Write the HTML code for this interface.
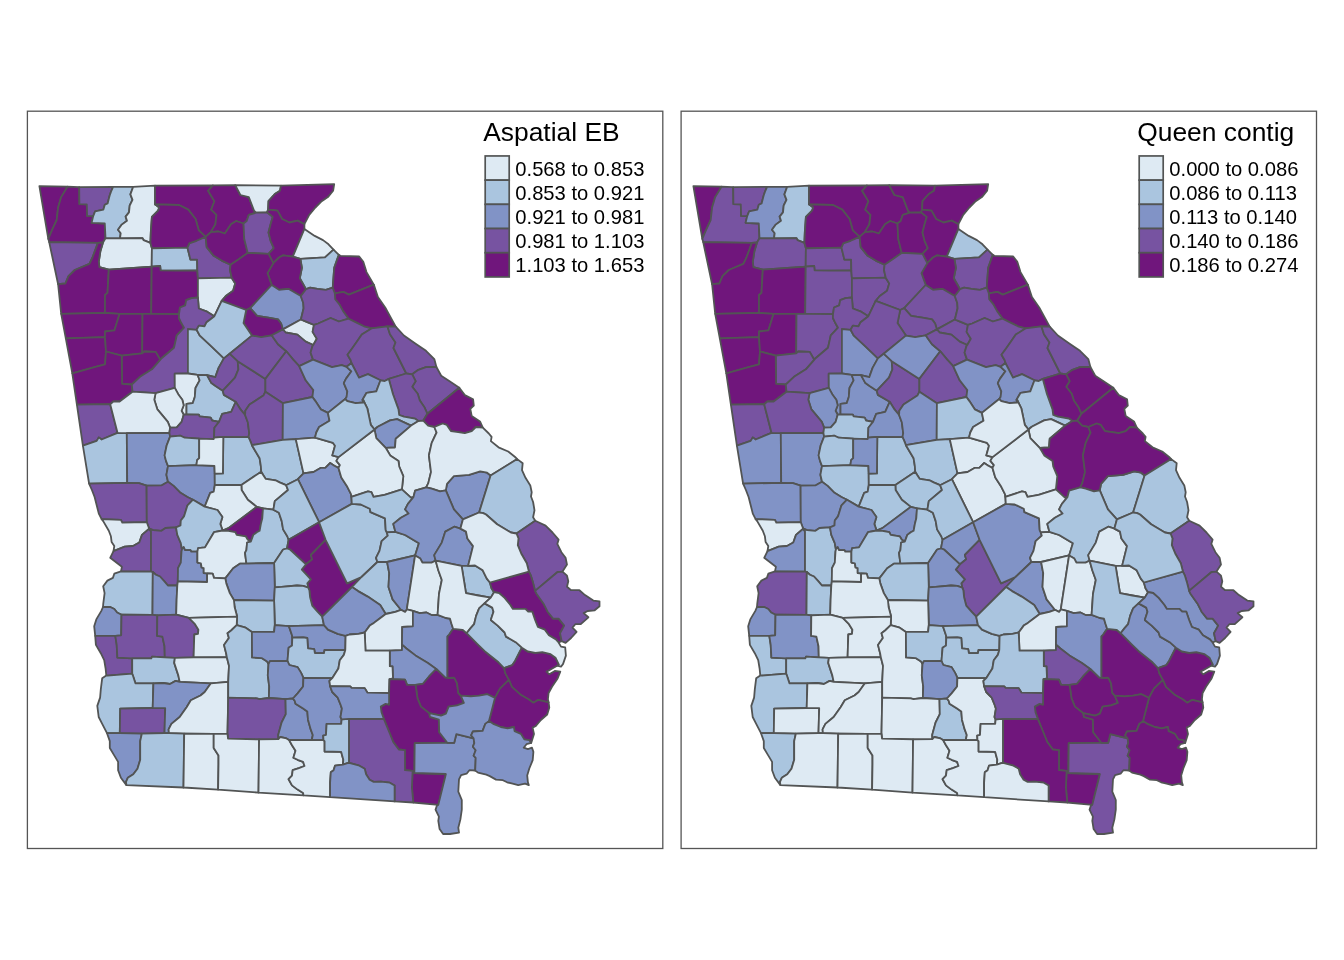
<!DOCTYPE html>
<html><head><meta charset="utf-8"><title>Georgia EB rates</title><style>
html,body{margin:0;padding:0;background:#fff}
body{width:1344px;height:960px;overflow:hidden;position:relative}
svg{position:absolute;left:0;top:0;font-family:"Liberation Sans",sans-serif;fill:#000}
</style></head><body>
<svg width="1344" height="960" viewBox="0 0 1344 960">
<g stroke="#525454" stroke-width="1.8" stroke-linejoin="round">
<path fill="#70167C" d="M39.4,186.2L67.5,186.7L61.2,197.1L58.1,207.5L56.7,220L51.9,230.4L48.3,238.8Z"/>
<path fill="#70167C" d="M67.5,186.7L79.2,187.2L79.4,204.1L86.8,204.4L87.1,215.9L93.2,216.1L91.6,222.8L104.8,223.5L105.5,238.3L103,242.5L97.9,242.9L49.2,242.1L48.3,238.8L51.9,230.4L56.7,220L58.1,207.5L61.2,197.1Z"/>
<path fill="#7753A1" d="M79.2,187.2L113.1,186.8L111,191.6L109.6,195.8L107.6,203.4L104.8,204.8L103.4,209.6L95.1,211.3L93.2,216.1L87.1,215.9L86.8,204.4L79.4,204.1Z"/>
<path fill="#AAC5DF" d="M113.1,186.8L133.2,186.8L130.4,194.4L132.5,199.9L129.7,205.5L129,212.4L125.6,216.6L127,220.7L121.4,224.9L118,229.7L120.7,233.2L120,238.3L105.5,238.3L104.8,223.5L91.6,222.8L93.2,216.1L95.1,211.3L103.4,209.6L104.8,204.8L107.6,203.4L109.6,195.8L111,191.6Z"/>
<path fill="#DEEAF3" d="M133.2,186.8L155,185.6L155,204.4L159.2,207.5L158.1,210.6L151.9,216.9L150.8,232.5L150.4,242.9L143.5,240.2L142.5,238.1L120,238.3L120.7,233.2L118,229.7L121.4,224.9L127,220.7L125.6,216.6L129,212.4L129.7,205.5L132.5,199.9L130.4,194.4Z"/>
<path fill="#7753A1" d="M49.2,242.1L97.9,242.9L92.5,257.5L89.4,263.8L74.8,270L68.5,276.2L65.4,283.5L58.1,284.2Z"/>
<path fill="#DEEAF3" d="M103,242.5L105.5,238.3L120,238.3L142.5,238.1L143.5,240.2L150.4,242.9L151.9,248.3L151.7,266.7L108.8,269.6L99.4,267.1L98.8,261.7L100.4,251.2Z"/>
<path fill="#70167C" d="M97.9,242.9L103,242.5L100.4,251.2L98.8,261.7L99.4,267.1L108.8,269.6L107.5,292.9L105,295L105,312.9L61.2,313.8L58.1,284.2L65.4,283.5L68.5,276.2L74.8,270L89.4,263.8L92.5,257.5Z"/>
<path fill="#70167C" d="M108.8,269.6L151.7,266.7L151.2,313.8L142.5,313.8L119.6,313.8L105,312.9L105,295L107.5,292.9Z"/>
<path fill="#70167C" d="M61.2,313.8L105,312.9L119.6,313.8L114.4,330.4L105,331.5L105,337.1L65.8,338.3Z"/>
<path fill="#70167C" d="M155,185.6L212.9,185.4L208.1,190.8L214.4,201.2L211.2,209.6L216.5,214.8L215.4,224.2L210.8,232.1L205.6,236.9L198.8,230.4L195.6,219L188.3,209.6L179,205L155,204.4Z"/>
<path fill="#70167C" d="M155,204.4L179,205L188.3,209.6L195.6,219L198.8,230.4L205.6,236.9L196.7,240.8L189.4,243.3L187.5,247.7L151.9,248.3L150.4,242.9L150.8,232.5L151.9,216.9L158.1,210.6L159.2,207.5Z"/>
<path fill="#AAC5DF" d="M151.9,248.3L187.5,247.7L190.4,259.6L197.1,259.6L197.3,270.4L175.8,270.6L160.6,270.4L160.2,266L151.7,266.7Z"/>
<path fill="#70167C" d="M151.7,266.7L160.2,266L160.6,270.4L175.8,270.6L197.3,270.4L197.9,278.3L197.9,297.5L191.5,298.1L186.2,300.2L185.2,305.4L180,307.5L179,314.2L151.2,313.8Z"/>
<path fill="#7753A1" d="M187.5,247.7L189.4,243.3L196.7,240.8L205.6,236.9L206.7,247.1L213.3,255.4L221.7,260.6L230.6,264.8L230,270L231.7,277.7L197.9,278.3L197.3,270.4L197.1,259.6L190.4,259.6Z"/>
<path fill="#70167C" d="M212.9,185.4L235.2,185.2L240.4,195L248.8,197.1L254,210.6L256,212.7L248.8,214.8L246.7,221L243.5,223.5L236.2,221L231,224.2L224.8,233.5L218.5,231.5L210.8,232.1L215.4,224.2L216.5,214.8L211.2,209.6L214.4,201.2L208.1,190.8Z"/>
<path fill="#70167C" d="M205.6,236.9L210.8,232.1L218.5,231.5L224.8,233.5L231,224.2L236.2,221L243.5,223.5L244.2,238.8L247.7,252.9L238.3,259.6L230.6,264.8L221.7,260.6L213.3,255.4L206.7,247.1Z"/>
<path fill="#DEEAF3" d="M197.9,278.3L231.7,277.7L235.2,283.5L233.1,290.8L225.8,296L221.7,300.8L214.4,316.2L207.1,311.7L198.8,308.5L197.9,297.5Z"/>
<path fill="#DEEAF3" d="M235.2,185.2L281,185.6L280,190.8L274.8,194L268.5,201.2L268.1,209.6L267.1,212.3L256,212.7L254,210.6L248.8,197.1L240.4,195Z"/>
<path fill="#70167C" d="M281,185.6L334.2,184.2L333.1,190.8L327.9,197.1L321.7,201.2L315.4,207.5L309.2,214.8L304.4,224.2L297.7,220.6L289.4,222.5L282.1,219L277.5,210.6L268.1,209.6L268.5,201.2L274.8,194L280,190.8Z"/>
<path fill="#7753A1" d="M256,212.7L267.1,212.3L272.7,216.9L270.6,224.2L268.5,232.5L270.6,240.8L273.8,248.1L268.5,253.8L247.7,252.9L244.2,238.8L243.5,223.5L246.7,221L248.8,214.8Z"/>
<path fill="#70167C" d="M268.1,209.6L277.5,210.6L282.1,219L289.4,222.5L297.7,220.6L304.4,224.2L304.4,229L292.8,256.7L283.1,255.4L279,257.5L273.3,263.1L268.5,253.8L273.8,248.1L270.6,240.8L268.5,232.5L270.6,224.2L272.7,216.9L267.1,212.3Z"/>
<path fill="#DEEAF3" d="M304.4,229L314.7,235.9L323,240.1L328.5,244.3L333.5,249.6L325,257.4L300.4,258.8L292.8,256.7Z"/>
<path fill="#AAC5DF" d="M300.4,258.8L325,257.4L333.5,249.6L338.8,254.8L334.2,267.9L332.7,287.7L325.8,289.8L317.5,288.8L310.2,287.7L306,289.2L299.8,278.3L301.9,267.9Z"/>
<path fill="#70167C" d="M338.8,254.8L340.4,255.8L359.2,256.5L363.3,261.7L366.5,272.1L373.8,284.6L348.8,294.6L343.5,291.9L334.8,293.3L332.7,287.7L334.2,267.9Z"/>
<path fill="#70167C" d="M334.8,293.3L343.5,291.9L348.8,294.6L373.8,284.6L377.9,297.1L385.2,307.5L395.7,326.6L387.4,326.3L371.5,328.4L363.9,326.3L357,322.9L348.6,318.7L343.1,311.1L339.4,304.4L335.2,299.2Z"/>
<path fill="#70167C" d="M273.3,263.1L279,257.5L283.1,255.4L292.8,256.7L300.4,258.8L301.9,267.9L299.8,278.3L306,289.2L300.8,296L288.3,288.8L279,289.8L271.7,285L267.5,273.1Z"/>
<path fill="#70167C" d="M247.7,252.9L268.5,253.8L273.3,263.1L267.5,273.1L271.7,285L250.2,308.1L246.2,310L221.7,300.8L225.8,296L233.1,290.8L235.2,283.5L231.7,277.7L230,270L230.6,264.8L238.3,259.6Z"/>
<path fill="#8193C6" d="M271.7,285L279,289.8L288.3,288.8L300.8,296L303.2,302.8L303.6,308.3L300.9,319.5L282.9,329.4L281.1,323.5L278,319.4L268.3,317.7L257.1,315.8L250.2,308.1Z"/>
<path fill="#70167C" d="M250.2,308.1L257.1,315.8L268.3,317.7L278,319.4L281.1,323.5L282.9,329.4L271.8,335.3L261.2,337.1L251.9,335.6L243.5,323.1L246.2,310Z"/>
<path fill="#DEEAF3" d="M282.9,329.4L300.9,319.5L304.3,320.8L314,324.9L312.6,331.9L316.8,338.8L313.3,345L305.7,341.6L297.4,334.6L285.6,332.5Z"/>
<path fill="#7753A1" d="M306,289.2L310.2,287.7L317.5,288.8L325.8,289.8L332.7,287.7L334.8,293.3L335.2,299.2L339.4,304.4L343.1,311.1L348.6,318.7L338.9,321.5L330.6,318L318.2,323.5L314,324.9L304.3,320.8L300.9,319.5L303.6,308.3L303.2,302.8L300.8,296Z"/>
<path fill="#70167C" d="M65.8,338.3L105,337.1L106,351.5L105,364.4L94.6,367.1L72.3,373.3Z"/>
<path fill="#70167C" d="M119.6,313.8L142.5,313.8L142.2,353.3L121.7,355.6L106,351.5L105,337.1L105,331.5L114.4,330.4Z"/>
<path fill="#70167C" d="M142.5,313.8L151.2,313.8L179,314.2L178.9,318L180.9,322.2L184,327.7L176.8,335.3L175.4,341.6L174,347.8L161.6,358.2L160.2,359.8L155.7,351.9L144.2,351.5L142.2,353.3Z"/>
<path fill="#70167C" d="M121.7,355.6L142.2,353.3L144.2,351.5L155.7,351.9L160.2,359.8L151.9,369.3L140.8,376.2L131.8,384.5L122.1,383.8Z"/>
<path fill="#70167C" d="M72.3,373.3L94.6,367.1L105,364.4L106,351.5L121.7,355.6L122.1,383.8L131.8,384.5L132.5,391.7L119.6,401.5L113.3,401.5L110.2,404.2L76.9,404.6Z"/>
<path fill="#7753A1" d="M179,314.2L180,307.5L185.2,305.4L186.2,300.2L191.5,298.1L197.9,297.5L198.8,308.5L207.1,311.7L214.4,316.2L206.6,322.2L204.5,326.3L198.9,325.6L196.6,329.8L187.9,329.1L187.9,373.5L174.7,373.7L174.8,387.8L155.6,393.1L132.5,391.7L131.8,384.5L140.8,376.2L151.9,369.3L160.2,359.8L161.6,358.2L174,347.8L175.4,341.6L176.8,335.3L184,327.7L180.9,322.2L178.9,318Z"/>
<path fill="#AAC5DF" d="M196.6,329.8L199.6,335.3L211.4,346.4L223.9,358.4L218.6,367.9L215.3,377.1L207,375.1L197.6,374.8L187.9,373.5L187.9,329.1Z"/>
<path fill="#AAC5DF" d="M221.7,300.8L246.2,310L243.5,323.1L251.9,335.6L229.7,353.7L223.9,358.4L211.4,346.4L199.6,335.3L196.6,329.8L198.9,325.6L204.5,326.3L206.6,322.2L214.4,316.2Z"/>
<path fill="#DEEAF3" d="M174.8,387.8L174.7,373.7L187.9,373.5L197.6,374.8L199.6,380.3L195.5,388L194.8,397L192.7,403.2L186.5,403.9L186.5,414.4L183.7,414.7L181.6,410.8L183.7,405.3L182.3,399.7L178.2,394.2Z"/>
<path fill="#DEEAF3" d="M155.6,393.1L174.8,387.8L178.2,394.2L182.3,399.7L183.7,405.3L181.6,410.8L183.7,414.7L181.6,421.9L176.8,427.4L170.1,427.7L167.8,421.9L164.3,417.7L157.4,409.4L154.3,399.7Z"/>
<path fill="#AAC5DF" d="M197.6,374.8L207,375.1L211.4,383.1L215.6,386.1L222.8,390.7L223.9,394.9L235.7,401.8L231.2,411.8L222.2,413.9L219,421.9L212.1,420.5L210.7,417.7L199.6,416.3L198.9,414.7L186.5,414.4L186.5,403.9L192.7,403.2L194.8,397L195.5,388L199.6,380.3Z"/>
<path fill="#7753A1" d="M223.9,358.4L229.7,353.7L237.7,361.2L238.4,369.3L235,377.6L226.6,386.6L222.8,390.7L215.6,386.1L211.4,383.1L207,375.1L215.3,377.1L218.6,367.9Z"/>
<path fill="#7753A1" d="M237.7,361.2L265.4,378.9L265.4,391.7L263.4,395.6L249.5,404.6L245.3,410.8L245.1,415L240.5,409.4L235.7,401.8L223.9,394.9L222.8,390.7L226.6,386.6L235,377.6L238.4,369.3Z"/>
<path fill="#7753A1" d="M251.9,335.6L261.2,337.1L271.8,335.3L273.2,337.4L278,344.3L286.3,351.2L265.4,378.9L237.7,361.2L229.7,353.7Z"/>
<path fill="#7753A1" d="M282.9,329.4L285.6,332.5L297.4,334.6L305.7,341.6L313.3,345L312.6,345.7L310.6,352.6L313,359.6L299.2,366.1L293.2,359.6L286.3,351.2L278,344.3L273.2,337.4L271.8,335.3Z"/>
<path fill="#7753A1" d="M314,324.9L318.2,323.5L330.6,318L338.9,321.5L348.6,318.7L357,322.9L363.9,326.3L371.5,328.4L361.8,334.6L357,341.6L352.1,348.5L347.5,354.7L350.7,360.2L351.4,363L346.6,366.8L341.7,365.1L332,367.2L313,359.6L310.6,352.6L312.6,345.7L313.3,345L316.8,338.8L312.6,331.9Z"/>
<path fill="#7753A1" d="M371.5,328.4L387.4,326.3L390,334.2L395.5,342.5L393.5,348L406.3,373.5L388.8,378.9L384.7,381L380.5,380.3L368,374.1L359,377.6L351.4,363L350.7,360.2L347.5,354.7L352.1,348.5L357,341.6L361.8,334.6Z"/>
<path fill="#7753A1" d="M286.3,351.2L293.2,359.6L299.2,366.1L305.7,380.3L313.3,390L312.4,397L282.9,403.2L265.4,391.7L265.4,378.9Z"/>
<path fill="#8193C6" d="M313,359.6L332,367.2L341.7,365.1L346.6,366.8L351.4,371.3L345.9,378.9L343.8,383.1L347.3,391.4L346.6,397L345.2,399L327.9,412.9L320.9,409.4L315.4,401.1L312.4,397L313.3,390L305.7,380.3L299.2,366.1Z"/>
<path fill="#8193C6" d="M346.6,366.8L351.4,363L359,377.6L368,374.1L380.5,380.3L376.3,391.4L366.6,392.8L362.5,399.7L363.2,402.5L355.6,403.2L347.3,401.1L345.2,399L346.6,397L347.3,391.4L343.8,383.1L345.9,378.9L351.4,371.3Z"/>
<path fill="#7753A1" d="M387.4,326.3L395.7,326.6L403.9,335.5L414.9,343.2L426,350.8L434.3,359.1L436.4,367L426,367.1L417.7,370.2L412.2,374.3L406.3,373.5L393.5,348L395.5,342.5L390,334.2Z"/>
<path fill="#7753A1" d="M412.2,374.3L417.7,370.2L426,367.1L436.4,367L441.2,375.7L449.6,381.2L459.3,387.8L427.4,413.8L424.6,407.6L419.8,400.6L417.7,393.7L412.2,386.8L415.6,381.2Z"/>
<path fill="#7753A1" d="M406.3,373.5L412.2,374.3L415.6,381.2L412.2,386.8L417.7,393.7L419.8,400.6L424.6,407.6L427.4,413.8L423.2,420.7L418.4,421L414.9,418.6L403.9,416.6L399.2,415L398.5,409.4L393,394.2L388.8,378.9Z"/>
<path fill="#70167C" d="M427.4,413.8L459.3,387.8L464.8,395.1L473.1,399.3L473.8,405.5L470.3,408.9L471.7,415.9L480,421.4L482.8,427.6L475.9,427L471.7,431.1L464.8,433.2L456.5,431.8L450.9,431.1L446.8,424.9L442.6,423.5L434.3,427L428.1,425.6L423.2,420.7Z"/>
<path fill="#AAC5DF" d="M380.5,380.3L384.7,381L388.8,378.9L393,394.2L398.5,409.4L399.2,415L403.9,416.6L414.9,418.6L418.4,421L411.1,425.6L397.1,419.1L390.1,420.4L377.7,426.7L374.5,429.5L370.8,424.9L367.3,408.3L363.2,400L363.2,402.5L362.5,399.7L366.6,392.8L376.3,391.4Z"/>
<path fill="#7753A1" d="M76.9,404.6L110.2,404.2L117.5,432.8L101.6,439.5L98.8,437.4L96.7,440.9L82.9,445.7Z"/>
<path fill="#AAC5DF" d="M82.9,445.7L96.7,440.9L98.8,437.4L101.6,439.5L117.5,432.8L126.8,433.2L127.2,482.8L89.1,483.7Z"/>
<path fill="#DEEAF3" d="M110.2,404.2L113.3,401.5L119.6,401.5L132.5,391.7L155.6,393.1L154.3,399.7L157.4,409.4L164.3,417.7L167.8,421.9L170.1,427.7L169.4,432.8L126.8,433.2L117.5,432.8Z"/>
<path fill="#8193C6" d="M126.8,433.2L169.4,432.8L170.1,436.7L166.6,445.7L164.6,455.4L166,460.9L168,466.1L166.4,474.8L168,481.7L161.8,485.3L146.6,485.7L138.9,483.1L127.2,482.8Z"/>
<path fill="#7753A1" d="M170.1,427.7L176.8,427.4L181.6,421.9L183.7,414.7L186.5,414.4L198.9,414.7L199.6,416.3L210.7,417.7L212.1,420.5L219,421.9L217.9,423.3L214.4,427.7L214,437.7L213.7,439.1L199.2,438.6L184.7,437.7L180.5,435.7L170.1,436.7L169.4,432.8Z"/>
<path fill="#AAC5DF" d="M170.1,436.7L180.5,435.7L184.7,437.7L199.2,438.6L199.2,458.2L197.1,460.2L196.4,465.2L168,466.1L166,460.9L164.6,455.4L166.6,445.7Z"/>
<path fill="#8193C6" d="M168,466.1L196.4,465.2L214.4,465.8L214.7,473.7L214.8,485L213.7,491.7L210.2,492.8L204.7,506.6L193,499.7L187.4,497L180.5,492.8L173.6,485.9L168,481.7L166.4,474.8Z"/>
<path fill="#7753A1" d="M89.1,483.7L127.2,482.8L138.9,483.1L146.6,485.7L146.8,522.2L122.3,522.6L120.9,519.8L101.6,519.1L98.8,513.6L96.7,505.3L94.6,497L91.9,490Z"/>
<path fill="#7753A1" d="M219,421.9L222.2,413.9L231.2,411.8L235.7,401.8L240.5,409.4L245.1,415L247.8,422.2L249.2,433.2L248.5,437.1L223.3,436.8L214,437.7L214.4,427.7L217.9,423.3Z"/>
<path fill="#7753A1" d="M245.1,415L245.3,410.8L249.5,404.6L263.4,395.6L265.4,391.7L282.9,403.2L282.7,439.8L251.9,445.2L249.9,440.2L248.5,437.1L249.2,433.2L247.8,422.2Z"/>
<path fill="#8193C6" d="M282.9,403.2L312.4,397L315.4,401.1L320.9,409.4L327.9,412.9L329.5,420.8L319.1,427L316.3,432.5L315,437.7L295.8,439.1L282.7,439.8Z"/>
<path fill="#AAC5DF" d="M223.3,436.8L248.5,437.1L249.9,440.2L251.9,445.2L259.6,458.2L260.9,466.5L261.2,471.7L241.4,485L214.8,485L214.7,473.7L222.9,473.4Z"/>
<path fill="#DEEAF3" d="M199.2,438.6L213.7,439.1L214,437.7L223.3,436.8L222.9,473.4L214.7,473.7L214.4,465.8L196.4,465.2L197.1,460.2L199.2,458.2Z"/>
<path fill="#AAC5DF" d="M251.9,445.2L282.7,439.8L295.8,439.1L303.5,473.4L297.9,479.2L286.1,485.2L279.6,482.4L275.5,480.3L265.8,478.9L263,474.8L261.2,471.7L260.9,466.5L259.6,458.2Z"/>
<path fill="#DEEAF3" d="M295.8,439.1L315,437.7L333,442.9L335,445.7L332.3,455.4L338.5,457.1L336.4,460.9L339.9,465.1L338.5,467.9L334.3,465.8L330.2,463L325.3,467.9L320.5,467.9L313.6,472L303.5,473.4Z"/>
<path fill="#8193C6" d="M303.5,473.4L313.6,472L320.5,467.9L325.3,467.9L330.2,463L334.3,465.8L338.5,467.9L341.3,477.6L346.8,485.9L351,494.2L351.4,496.9L351.8,503.9L319.1,522.2L297.9,479.2Z"/>
<path fill="#DEEAF3" d="M261.2,471.7L263,474.8L265.8,478.9L275.5,480.3L279.6,482.4L286.1,485.2L288,490L274.8,501.1L273.4,509.7L263,508.3L256.8,506.9L247.8,499.7L241.6,490L241.4,485Z"/>
<path fill="#DEEAF3" d="M214.8,485L241.4,485L241.6,490L247.8,499.7L256.8,506.9L228.4,528.1L222.6,530.5L220.3,523.9L222.4,516.9L217.5,510L204.7,506.6L210.2,492.8L213.7,491.7Z"/>
<path fill="#8193C6" d="M374.5,429.5L377.7,426.7L390.1,420.4L397.1,419.1L411.1,425.6L395.7,438.8L395,447.5L385.7,447.8L376.3,438.1Z"/>
<path fill="#DEEAF3" d="M418.4,421L423.2,420.7L428.1,425.6L434.3,427L436.6,432.5L431.7,442.9L428.9,455.4L431,472L428.3,483.1L426.2,487.3L415.1,490.7L413.4,497.2L410.9,497.6L401.9,489.3L403.3,476.2L399.2,466.5L398.5,460.9L390.2,455.4L385.7,447.8L395,447.5L395.7,438.8L411.1,425.6Z"/>
<path fill="#8193C6" d="M445.8,490.3L447,483.8L453.9,476.2L469.1,474.8L480.2,471.3L487.1,472.7L490.6,475.5L479.1,512.5L462.9,519.4L453.9,509.4Z"/>
<path fill="#DEEAF3" d="M434.3,427L442.6,423.5L446.8,424.9L450.9,431.1L456.5,431.8L464.8,433.2L471.7,431.1L475.9,427L482.8,427.6L488.8,433.5L491.6,436.9L490.9,441.1L498.5,447.3L508.2,451.5L515.1,457L517.2,459.1L490.6,475.5L487.1,472.7L480.2,471.3L469.1,474.8L453.9,476.2L447,483.8L445.8,490.3L440,491.4L431.7,488.6L426.2,487.3L428.3,483.1L431,472L428.9,455.4L431.7,442.9L436.6,432.5Z"/>
<path fill="#AAC5DF" d="M490.6,475.5L517.2,459.1L522.7,463.2L522,470.2L525.5,477.8L530.3,485.4L531.7,492.3L531,496.5L533.1,502L534.5,510.3L533.1,517.3L535.2,520.7L516.5,533.5L510.9,532.5L497.1,524.2L486,514.5L483.2,513.1L479.1,512.5Z"/>
<path fill="#7753A1" d="M146.6,485.7L161.8,485.3L168,481.7L173.6,485.9L180.5,492.8L187.4,497L193,499.7L187.5,505.3L184,516.4L180.8,520.5L180.5,525.5L176,527.3L165.6,528L161.4,530.8L153.1,530.1L149.2,528.7L146.8,522.2Z"/>
<path fill="#DEEAF3" d="M101.6,519.1L120.9,519.8L122.3,522.6L146.8,522.2L149.2,528.7L142,534.9L139.3,542.5L133,546L124.7,546.7L113.5,551.1L114.3,546L111.6,541.9L110.9,536.3L108.8,530.8L103.2,521.1Z"/>
<path fill="#7753A1" d="M113.5,551.1L124.7,546.7L133,546L139.3,542.5L142,534.9L149.2,528.7L151,531.5L151,571.6L121,571.4L121.9,566.8L110.2,557.8Z"/>
<path fill="#7753A1" d="M149.2,528.7L153.1,530.1L161.4,530.8L165.6,528L176,527.3L177.3,534.9L180.8,543.2L181.9,549.5L181.5,551.6L180.8,562.6L178,568.2L177.8,581.3L177.3,585.5L167.9,585.5L164.2,581.1L160,576.5L155.9,574.7L152.8,572L151,571.6L151,531.5Z"/>
<path fill="#AAC5DF" d="M121,571.4L151,571.6L152.8,572L152.5,614.8L121.5,614.7L117.1,612.5L114.3,609L110.2,607L103,607L103.2,604.2L104.6,593.1L103.2,586.2L107.4,580.6L112.9,577.9L114.3,573.7Z"/>
<path fill="#8193C6" d="M103,607L110.2,607L114.3,609L117.1,612.5L121.5,614.7L121.2,635.3L115.3,635.9L95.2,635.9L94.2,626.3L96.3,619.4L101.2,611.1Z"/>
<path fill="#8193C6" d="M152.8,572L155.9,574.7L160,576.5L164.2,581.1L167.9,585.5L177.3,585.5L176.6,600L176.2,614.6L157.3,615.3L152.5,614.8Z"/>
<path fill="#AAC5DF" d="M193,499.7L204.7,506.6L217.5,510L222.4,516.9L220.3,523.9L222.6,530.5L214,532.2L205,547.4L198.1,548.1L197.4,551.6L191.2,551.6L190.5,550.2L185,550.2L183.6,547.1L181.9,549.5L180.8,543.2L177.3,534.9L176,527.3L180.5,525.5L180.8,520.5L184,516.4L187.5,505.3Z"/>
<path fill="#8193C6" d="M181.9,549.5L183.6,547.1L185,550.2L190.5,550.2L191.2,551.6L197.4,551.6L197.4,562.6L200.9,563.3L201.6,567.5L203.7,568.2L203.7,573L207.1,573.3L207.1,582L177.8,581.3L178,568.2L180.8,562.6L181.5,551.6Z"/>
<path fill="#70167C" d="M256.8,506.9L263,508.3L262.3,518.3L260.9,523.9L259.6,530.8L256.8,532.2L253.3,534.9L250.8,541.6L247.8,539.8L245.7,536.3L236.7,534.9L235.3,532.2L228.4,530.8L222.6,530.5L228.4,528.1Z"/>
<path fill="#DEEAF3" d="M197.4,551.6L198.1,548.1L205,547.4L214,532.2L222.6,530.5L228.4,530.8L235.3,532.2L236.7,534.9L245.7,536.3L247.8,539.8L250.8,541.6L247.1,542.5L246.4,550.2L245,552.9L246.4,563.6L240.2,563.6L233.2,568.2L225.3,578.4L214,577.9L212.7,573.7L207.1,573.3L203.7,573L203.7,568.2L201.6,567.5L200.9,563.3L197.4,562.6Z"/>
<path fill="#AAC5DF" d="M263,508.3L273.4,509.7L278.9,512.8L281.7,521.1L283.1,529.4L287.3,536.3L288.6,539.8L287,548.5L283.1,549.5L274.1,563L246.4,563.6L245,552.9L246.4,550.2L247.1,542.5L250.8,541.6L253.3,534.9L256.8,532.2L259.6,530.8L260.9,523.9L262.3,518.3Z"/>
<path fill="#AAC5DF" d="M286.1,485.2L297.9,479.2L319.1,522.2L288.6,539.8L287.3,536.3L283.1,529.4L281.7,521.1L278.9,512.8L273.4,509.7L274.8,501.1L288,490Z"/>
<path fill="#70167C" d="M288.6,539.8L319.1,522.2L325.6,539.8L310.8,555L312.2,559.2L306,564.3L290,549.5L287,548.5Z"/>
<path fill="#70167C" d="M325.6,539.8L347.1,583.4L361.5,577L352,587L322.2,616.6L317.7,611.8L312.2,605.6L310.1,597.3L309.4,590.3L308.3,587.6L307.3,583.4L310.8,579.3L301.8,569.6L306,564.3L312.2,559.2L310.8,555Z"/>
<path fill="#AAC5DF" d="M287,548.5L290,549.5L306,564.3L301.8,569.6L310.8,579.3L307.3,583.4L308.3,587.6L303.2,585.9L297,585.5L281.7,586.9L274.8,587.3L274.1,563L283.1,549.5Z"/>
<path fill="#8193C6" d="M225.3,578.4L233.2,568.2L240.2,563.6L246.4,563.6L274.1,563L274.8,587.3L274.1,600.7L233.9,600L229.8,593.1L226.3,583.4Z"/>
<path fill="#AAC5DF" d="M274.8,587.3L281.7,586.9L297,585.5L303.2,585.9L308.3,587.6L309.4,590.3L310.1,597.3L312.2,605.6L317.7,611.8L322.2,616.6L324,625.2L288.9,626.1L274.8,625.2L274.1,600.7Z"/>
<path fill="#AAC5DF" d="M233.9,600L274.1,600.7L274.8,625.2L274.1,631.9L251.9,631.9L245.7,627.7L236.7,625.2L237.1,616.6L234.6,607Z"/>
<path fill="#DEEAF3" d="M177.8,581.3L207.1,582L207.1,573.3L212.7,573.7L214,577.9L225.3,578.4L226.3,583.4L229.8,593.1L233.9,600L234.6,607L237.1,616.6L188.8,617.8L176.2,614.6L176.6,600L177.3,585.5Z"/>
<path fill="#DEEAF3" d="M374.5,429.5L376.3,438.1L385.7,447.8L390.2,455.4L398.5,460.9L399.2,466.5L403.3,476.2L401.9,489.3L384.6,494.8L373.5,496.9L371.4,492.1L368,491.4L351.4,496.9L351,494.2L346.8,485.9L341.3,477.6L338.5,467.9L339.9,465.1L336.4,460.9L338.5,457.1Z"/>
<path fill="#AAC5DF" d="M327.9,412.9L345.2,399L347.3,401.1L355.6,403.2L363.2,402.5L363.2,400L367.3,408.3L370.8,424.9L374.5,429.5L338.5,457.1L332.3,455.4L335,445.7L333,442.9L315,437.7L316.3,432.5L319.1,427L329.5,420.8Z"/>
<path fill="#AAC5DF" d="M351.8,503.9L360.8,504.5L369.8,508.7L370.5,512.2L385,518.4L385.7,530.2L386.8,532.4L387.8,535.7L381.6,541.2L379.5,550.9L376,557.9L377.4,562L361.5,577L347.1,583.4L325.6,539.8L319.1,522.2Z"/>
<path fill="#AAC5DF" d="M351.4,496.9L368,491.4L371.4,492.1L373.5,496.9L384.6,494.8L401.9,489.3L410.9,497.6L413.4,497.2L407.9,503.9L405.1,509.4L408.6,513.5L400.9,517.7L393.3,523.9L395.4,531.8L386.8,532.4L385.7,530.2L385,518.4L370.5,512.2L369.8,508.7L360.8,504.5L351.8,503.9Z"/>
<path fill="#AAC5DF" d="M386.8,532.4L395.4,531.8L405.1,535L418.9,543.3L415.1,555.4L387.1,562L377.4,562L376,557.9L379.5,550.9L381.6,541.2L387.8,535.7Z"/>
<path fill="#AAC5DF" d="M361.5,577L377.4,562L387.1,562L389.2,573.1L388.5,587L392.6,599.4L400.9,609.8L395.4,611.9L385.7,614L380.2,605L367.7,596.6L358,591.1L352,587Z"/>
<path fill="#8193C6" d="M387.1,562L415.1,555.4L406.8,609.4L405.1,611.9L400.9,609.8L392.6,599.4L388.5,587L389.2,573.1Z"/>
<path fill="#8193C6" d="M413.4,497.2L415.1,490.7L426.2,487.3L431.7,488.6L440,491.4L445.8,490.3L453.9,509.4L462.9,519.4L460.4,528.6L454.3,526.7L445.3,531.6L441.8,542.6L434.2,555.1L435.6,560.6L431.4,562.7L422.4,562.7L420.3,558.6L415.1,555.4L418.9,543.3L405.1,535L395.4,531.8L393.3,523.9L400.9,517.7L408.6,513.5L405.1,509.4L407.9,503.9Z"/>
<path fill="#8193C6" d="M460.4,528.6L466,531.6L467.4,538.5L473,546.1L468.1,565.9L461.6,565.9L435.6,560.6L434.2,555.1L441.8,542.6L445.3,531.6L454.3,526.7Z"/>
<path fill="#DEEAF3" d="M415.1,555.4L420.3,558.6L422.4,562.7L431.4,562.7L435.6,560.6L438.3,570.3L441.8,580L439,593.9L437.6,614.9L432,615.2L426.5,612.5L419.6,613.2L412.9,610.8L406.8,609.4Z"/>
<path fill="#AAC5DF" d="M461.6,565.9L468.1,565.9L475,565.5L482.7,570.3L486.8,578.6L489.9,582.5L491.5,588.2L494,592.2L490.8,597.6L478.4,595.5L466,593.2Z"/>
<path fill="#7753A1" d="M535.2,520.7L545.6,525.6L552.5,532.5L558.6,539.7L557.3,543.9L561.4,552.2L565.6,557.7L567,564.6L562.5,571.6L557.3,572.2L535.1,590.9L533,582.6L530.9,575.7L528.9,571.6L526.8,563.2L521.2,553.5L517.8,545.2L518.5,538.3L516.5,533.5Z"/>
<path fill="#70167C" d="M528.9,571.6L530.9,575.7L533,582.6L535.1,590.9L536.5,593.7L543.4,603.4L547.6,611.7L553.1,618.6L558.6,618.6L564.2,625.6L560,633.2L561.7,641.1L558.6,642.5L555.9,639.4L548.9,635.3L544.8,629.7L537.9,627L535.1,620L532.3,611.7L528.2,611.7L525.4,608.9L512.9,608.9L510.2,604.8L504.6,597.9L499.1,593L494,592.2L491.5,588.2L489.9,582.5Z"/>
<path fill="#7753A1" d="M562.5,571.6L567,575.7L568.3,581.2L567,586.8L571.1,590.2L579.4,590.2L585,595.1L593.3,600.6L599.5,601.3L599.5,606.2L594.7,610.3L587.7,611L583.6,613.1L588.4,617.3L580.8,624.2L575.3,624.2L572.5,627.6L576.6,631.8L571.1,638L565.6,642.9L561.7,641.1L560,633.2L564.2,625.6L558.6,618.6L553.1,618.6L547.6,611.7L543.4,603.4L536.5,593.7L535.1,590.9L557.3,572.2Z"/>
<path fill="#DEEAF3" d="M462.9,519.4L479.1,512.5L483.2,513.1L486,514.5L497.1,524.2L510.9,532.5L516.5,533.5L518.5,538.3L517.8,545.2L521.2,553.5L526.8,563.2L528.9,571.6L489.9,582.5L486.8,578.6L482.7,570.3L475,565.5L468.1,565.9L473,546.1L467.4,538.5L466,531.6L460.4,528.6Z"/>
<path fill="#7753A1" d="M95.2,635.9L115.3,635.9L116.7,644.9L117.4,657.7L132.2,658.4L132.2,673.7L107.7,675.7L106.3,675.4L105.6,668.5L104.2,660.2L100.8,653.2L95.9,644.9Z"/>
<path fill="#7753A1" d="M121.5,614.7L152.5,614.8L157.3,615.3L157.1,635.9L162.4,636.6L164.5,646.3L164.8,657.4L152,656.7L151.3,658.4L132.2,658.4L117.4,657.7L116.7,644.9L115.3,635.9L121.2,635.3Z"/>
<path fill="#7753A1" d="M157.3,615.3L176.2,614.6L188.8,617.8L195,624.2L198.4,629.7L198,633.9L194.3,634.5L193.6,657.4L174.9,657.8L164.8,657.4L164.5,646.3L162.4,636.6L157.1,635.9Z"/>
<path fill="#DEEAF3" d="M188.8,617.8L237.1,616.6L236.7,625.2L231.1,630.5L227.5,633.2L228.9,638L224,644.9L226.1,653.2L226.8,657.1L193.6,657.4L194.3,634.5L198,633.9L198.4,629.7L195,624.2Z"/>
<path fill="#AAC5DF" d="M132.2,658.4L151.3,658.4L152,656.7L164.8,657.4L174.9,657.8L174.2,662.9L178.3,675.4L179.7,681.9L175.6,680.9L170,684L163.1,683L153.4,683.4L135.4,683.3L133.3,676.8L132.2,673.7Z"/>
<path fill="#DEEAF3" d="M174.9,657.8L193.6,657.4L226.8,657.1L229,665.7L228.2,681.9L210.9,683.3L179.7,681.9L178.3,675.4L174.2,662.9Z"/>
<path fill="#AAC5DF" d="M106.3,675.4L107.7,675.7L132.2,673.7L133.3,676.8L135.4,683.3L153.4,683.4L152.7,708L120.2,708.6L119.8,733.2L107,733.2L102.2,723.9L98.7,717L97.3,705.9L100.1,697.6L100.8,689.3L102.2,678.2Z"/>
<path fill="#7753A1" d="M119.8,733.2L120.2,708.6L152.7,708L165.2,708.2L164.5,733.2L141.6,733.6Z"/>
<path fill="#8193C6" d="M153.4,683.4L163.1,683L170,684L175.6,680.9L179.7,681.9L210.9,683.3L204.7,692L200.5,695.5L190.8,700.3L186.6,707.3L179.7,717L171.4,723.9L168.6,729.4L168.9,733.2L164.5,733.2L165.2,708.2L152.7,708Z"/>
<path fill="#DEEAF3" d="M210.9,683.3L228.2,681.9L228.2,697.6L227.5,733.9L213.7,733.9L184.2,733.6L168.9,733.2L168.6,729.4L171.4,723.9L179.7,717L186.6,707.3L190.8,700.3L200.5,695.5L204.7,692Z"/>
<path fill="#AAC5DF" d="M236.7,625.2L245.7,627.7L251.9,631.9L252.1,657.4L261.6,658.1L267.1,661.6L268.5,664L267.8,675.4L269.2,686.5L268.9,698L259.5,699.2L256.7,698.3L228.2,697.6L228.2,681.9L229,665.7L226.8,657.1L226.1,653.2L224,644.9L228.9,638L227.5,633.2L231.1,630.5Z"/>
<path fill="#8193C6" d="M251.9,631.9L274.1,631.9L274.8,625.2L288.9,626.1L292,635.2L292.3,637.7L292,645.6L288.6,647.7L287.5,661L269.9,661.1L268.5,664L267.1,661.6L261.6,658.1L252.1,657.4Z"/>
<path fill="#8193C6" d="M288.9,626.1L324,625.2L328,629.7L337.7,633.9L345.6,635.9L345.3,650.1L324.6,649.8L323.9,653.2L314.9,653L314.2,649.1L308,648.4L307.3,638L303.1,637.3L292.3,637.7L292,635.2Z"/>
<path fill="#AAC5DF" d="M292.3,637.7L303.1,637.3L307.3,638L308,648.4L314.2,649.1L314.9,653L323.9,653.2L324.6,649.8L345.3,650.1L344,654.6L339.8,660.2L338.4,668.5L332.2,678.2L303.4,677.9L301,672.6L297.6,667.1L289.3,665L287.5,661L288.6,647.7L292,645.6Z"/>
<path fill="#8193C6" d="M268.5,664L269.9,661.1L287.5,661L289.3,665L297.6,667.1L301,672.6L303.4,677.9L303.1,686.5L297.6,693.4L293,698.5L285.5,699.2L268.9,698L269.2,686.5L267.8,675.4Z"/>
<path fill="#7753A1" d="M228.2,697.6L256.7,698.3L259.5,699.2L268.9,698L285.5,699.2L285.8,714.2L281.6,722.5L278.2,735L278.4,739.1L259.1,739.4L228,738.7L227.5,733.9Z"/>
<path fill="#8193C6" d="M285.5,699.2L293,698.5L294.8,701L295.5,703.8L303.1,708.6L307.3,711.4L308,719.7L310.7,729.4L312.8,735L311.7,740.2L289,739.9L286.5,738.4L280.2,737L278.4,739.1L278.2,735L281.6,722.5L285.8,714.2Z"/>
<path fill="#8193C6" d="M303.4,677.9L332.2,678.2L329.4,680.9L330.1,686.2L332.2,692L337.7,697.6L340.5,704.5L341.9,708.6L340.5,717L341.6,719.3L341.2,723.9L326.6,723.9L326,735L323.2,735.7L323.5,740.2L311.7,740.2L312.8,735L310.7,729.4L308,719.7L307.3,711.4L303.1,708.6L295.5,703.8L294.8,701L293,698.5L297.6,693.4L303.1,686.5Z"/>
<path fill="#8193C6" d="M352,587L322.2,616.6L324,625.2L328,629.7L337.7,633.9L345.6,635.9L349.5,634.5L358.5,633.9L364.7,632.5L369.7,625.6L373.9,622.9L379.4,618.7L385.7,614L380.2,605L367.7,596.6L358,591.1Z"/>
<path fill="#DEEAF3" d="M364.7,632.5L369.7,625.6L373.9,622.9L379.4,618.7L385.7,614L395.4,611.9L400.9,609.8L405.1,611.9L406.8,609.4L412.9,610.8L412.9,626.3L402.2,627L402,644.6L402,650.1L389.8,650.7L365.5,650.7Z"/>
<path fill="#8193C6" d="M412.9,610.8L419.6,613.2L426.5,612.5L432,615.2L437.6,614.9L445.9,618L450,618.7L451.4,623.5L453.1,628.8L449.3,634.6L447.5,636.3L447.5,677.8L445.2,677.6L436.2,669L427.9,663L415.4,655.4L406.4,648.5L402,644.6L402.2,627L412.9,626.3Z"/>
<path fill="#8193C6" d="M402,644.6L406.4,648.5L415.4,655.4L427.9,663L436.2,669L429.3,676.2L423,683.8L415.4,684.8L407.1,684.8L405,679.6L389.5,679.2L393,678.3L392.5,666.5L389.8,666.2L389.8,650.7L402,650.1Z"/>
<path fill="#DEEAF3" d="M345.6,635.9L349.5,634.5L358.5,633.9L364.7,632.5L365.5,650.7L389.8,650.7L389.8,666.2L392.5,666.5L393,678.3L389.5,679.2L389.1,693.1L367.5,692.7L364.7,688.1L351.6,687.8L350.2,686.4L330.1,686.2L329.4,680.9L332.2,678.2L338.4,668.5L339.8,660.2L344,654.6L345.3,650.1Z"/>
<path fill="#70167C" d="M415.4,684.8L423,683.8L429.3,676.2L436.2,669L445.2,677.6L447.5,677.8L454.2,677.6L457,683.1L458.3,692.8L460.7,695.6L463.9,702.8L457,705.3L448.6,706.6L445.9,713.6L441,715.7L429.3,713.2L420.9,706.6L417.5,698.3L416.1,688.6Z"/>
<path fill="#70167C" d="M453.1,628.8L455.6,629.1L462.5,629.8L466.6,633.2L470.8,637.4L477.7,644.3L484.7,651.2L491.6,656.8L498.5,662.3L504,668.1L505.4,673.4L508.9,679.9L499.9,688.6L495,697.9L487.4,694.2L479.1,695.6L470.8,696.3L460.7,695.6L458.3,692.8L457,683.1L454.2,677.6L447.5,677.8L447.5,636.3L449.3,634.6Z"/>
<path fill="#DEEAF3" d="M435.6,560.6L461.6,565.9L466,593.2L478.4,595.5L490.8,597.6L484.5,603.4L479.1,608.3L476.1,615.9L474.1,624.2L470.4,628.4L466.6,633.2L462.5,629.8L455.6,629.1L453.1,628.8L451.4,623.5L450,618.7L445.9,618L437.6,614.9L439,593.9L441.8,580L438.3,570.3Z"/>
<path fill="#AAC5DF" d="M484.5,603.4L492.2,607.6L493.5,611.7L490.8,620L497.7,625.6L504.6,632.5L506,636.6L515.7,642.2L521.9,647.7L519.3,652.6L515.1,660.9L512.4,665.1L504,668.1L498.5,662.3L491.6,656.8L484.7,651.2L477.7,644.3L470.8,637.4L466.6,633.2L470.4,628.4L474.1,624.2L476.1,615.9L479.1,608.3Z"/>
<path fill="#70167C" d="M521.9,647.7L527.8,651.5L535.4,652.9L542.3,652.2L550.6,654.2L555.5,657.7L558.9,664.6L557.1,665.7L549.3,670.2L546.5,671.6L549.3,674.3L554.8,670.9L560.3,671.6L557.6,678.5L552,686.8L548.6,693L547.9,699.3L548.6,702.3L538.2,699.9L533.3,702.7L528.5,699.3L520.2,694.4L511.9,686.8L508.9,679.9L505.4,673.4L504,668.1L512.4,665.1L515.1,660.9L519.3,652.6Z"/>
<path fill="#DEEAF3" d="M494,592.2L499.1,593L504.6,597.9L510.2,604.8L512.9,608.9L525.4,608.9L528.2,611.7L532.3,611.7L535.1,620L537.9,627L544.8,629.7L548.9,635.3L555.9,639.4L558.6,642.5L561,646.6L565.2,647.3L565.9,655.6L563.1,663.9L561,666.7L557.1,665.7L558.9,664.6L555.5,657.7L550.6,654.2L542.3,652.2L535.4,652.9L527.8,651.5L521.9,647.7L515.7,642.2L506,636.6L504.6,632.5L497.7,625.6L490.8,620L493.5,611.7L492.2,607.6L484.5,603.4L490.8,597.6Z"/>
<path fill="#70167C" d="M508.9,679.9L511.9,686.8L520.2,694.4L528.5,699.3L533.3,702.7L538.2,699.9L548.6,702.3L549.3,707.6L547.2,714.5L540.9,720L535.4,726.3L532.6,727.6L534,733.9L531.9,740.8L531.2,742.9L529.2,740.1L524.3,739.4L520.9,733.9L514.6,731.1L513.9,727L507.7,728.3L500.8,727L493.9,724.2L489,721.1L491.8,710.3L493.9,702L495,697.9L499.9,688.6Z"/>
<path fill="#8193C6" d="M107,733.2L119.8,733.2L141.6,733.6L141.6,734.8L140.2,741.1L140.2,759.8L137.5,768.8L133.3,774.3L127.8,777.8L126,781.9L126.4,785.1L120.9,777.8L118.1,770.2L118.1,761.9L113.9,754.9L109.8,748L109.8,741.1Z"/>
<path fill="#AAC5DF" d="M141.6,733.6L164.5,733.2L168.9,733.2L184.2,733.6L183.5,787.5L126.4,785.1L126,781.9L127.8,777.8L133.3,774.3L137.5,768.8L140.2,759.8L140.2,741.1L141.6,734.8Z"/>
<path fill="#DEEAF3" d="M184.2,733.6L213.7,733.9L213.7,748L218.5,755.6L218.5,764.6L218.1,789.6L183.5,787.5Z"/>
<path fill="#DEEAF3" d="M213.7,733.9L227.5,733.9L228,738.7L259.1,739.4L258.5,792.6L218.1,789.6L218.5,764.6L218.5,755.6L213.7,748Z"/>
<path fill="#DEEAF3" d="M259.1,739.4L278.4,739.1L280.2,737L286.5,738.4L289,739.9L292,745.2L295.5,750.8L293.4,757.7L297.6,759.8L303.1,761.9L304.5,766L298.9,768.1L292.7,770.2L292,775.7L288.6,779.2L292,785.4L297.6,789.6L303.1,793L303.5,795.4L258.5,792.6Z"/>
<path fill="#DEEAF3" d="M289,739.9L311.7,740.2L323.5,740.2L324.6,741.1L324.6,751.5L341.2,751.9L343.3,759.8L342.9,764.6L335,765.7L333.6,770.2L330.8,772.2L330.1,782.6L330.1,797.2L303.5,795.4L303.1,793L297.6,789.6L292,785.4L288.6,779.2L292,775.7L292.7,770.2L298.9,768.1L304.5,766L303.1,761.9L297.6,759.8L293.4,757.7L295.5,750.8L292,745.2Z"/>
<path fill="#AAC5DF" d="M341.6,719.3L349.1,718.9L349.1,762.8L347.4,763.2L342.9,764.6L343.3,759.8L341.2,751.9L324.6,751.5L324.6,741.1L323.5,740.2L323.2,735.7L326,735L326.6,723.9L341.2,723.9Z"/>
<path fill="#70167C" d="M389.5,679.2L405,679.6L407.1,684.8L415.4,684.8L416.1,688.6L417.5,698.3L420.9,706.6L429.3,713.2L429.9,716.9L438.9,719.7L439.2,732.2L447.3,742.8L414.7,743.2L414.4,773L445.9,774L438.3,804.9L413.3,802.5L411.9,787.6L412.6,770.9L405,770.2L405,750.2L398.8,749.5L393.2,741.9L389.8,733.5L383.8,718.8L381.5,712.2L380.8,706.6L385.6,703.9L389.1,704.6L389.1,693.1Z"/>
<path fill="#7753A1" d="M349.1,718.9L383.8,718.8L389.8,733.5L393.2,741.9L398.8,749.5L405,750.2L405,770.2L412.6,770.9L411.9,787.6L413.3,802.5L394.6,801.4L394.6,785.5L389.8,782.7L380.8,781.7L373.7,781.9L369.6,779.8L366.1,774.3L364.7,768.7L358.5,765.3L349.1,762.8Z"/>
<path fill="#8193C6" d="M342.9,764.6L347.4,763.2L349.1,762.8L358.5,765.3L364.7,768.7L366.1,774.3L369.6,779.8L373.7,781.9L380.8,781.7L389.8,782.7L394.6,785.5L394.6,801.4L330.1,797.2L330.1,782.6L330.8,772.2L333.6,770.2L335,765.7Z"/>
<path fill="#8193C6" d="M447.3,742.8L454.2,742.8L456.3,734.2L473.6,738.4L474.3,743.2L472.9,746.7L475.7,750.2L473.6,755.7L475.7,757.8L475.2,770.5L469.4,770.2L466.6,773.7L461.1,775.1L459,779.3L458.3,791.7L461.8,800L461.8,809.7L460.4,819.4L458.3,827.7L459,832.6L450,834L443.1,834L439.6,829.1L438.3,820.8L438.9,816.6L435.5,809.7L436.9,805.6L438.3,804.9L445.9,774L414.4,773L414.7,743.2Z"/>
<path fill="#8193C6" d="M429.3,713.2L441,715.7L445.9,713.6L448.6,706.6L457,705.3L463.9,702.8L460.7,695.6L470.8,696.3L479.1,695.6L487.4,694.2L495,697.9L493.9,702L491.8,710.3L489,721.1L485.3,723.9L482.6,730.8L472.9,731.5L471.1,735.3L473.6,738.4L456.3,734.2L454.2,742.8L447.3,742.8L439.2,732.2L438.9,719.7L429.9,716.9Z"/>
<path fill="#8193C6" d="M330.1,686.2L332.2,692L337.7,697.6L340.5,704.5L341.9,708.6L340.5,717L341.6,719.3L349.1,718.9L383.8,718.8L381.5,712.2L380.8,706.6L385.6,703.9L389.1,704.6L389.1,693.1L367.5,692.7L364.7,688.1L351.6,687.8L350.2,686.4Z"/>
<path fill="#8193C6" d="M489,721.1L493.9,724.2L500.8,727L507.7,728.3L513.9,727L514.6,731.1L520.9,733.9L524.3,739.4L529.2,740.1L531.2,742.9L526.5,744.2L523.7,747.7L527.9,749.1L532,747.7L533.4,751.9L532.7,760.2L529.3,768.5L527.2,775.4L527.9,782.3L528.8,785.1L525.1,783.7L518.2,785.1L512.6,783.7L507.1,782.3L502.9,780.2L496,779.6L489.8,776.1L486.3,774.7L478,772.6L475.2,770.5L475.7,757.8L473.6,755.7L475.7,750.2L472.9,746.7L474.3,743.2L473.6,738.4L471.1,735.3L472.9,731.5L482.6,730.8L485.3,723.9Z"/>
</g>
<g stroke="#525454" stroke-width="1.8" stroke-linejoin="round" transform="translate(654.0,0)">
<path fill="#70167C" d="M39.4,186.2L67.5,186.7L61.2,197.1L58.1,207.5L56.7,220L51.9,230.4L48.3,238.8Z"/>
<path fill="#7753A1" d="M67.5,186.7L79.2,187.2L79.4,204.1L86.8,204.4L87.1,215.9L93.2,216.1L91.6,222.8L104.8,223.5L105.5,238.3L103,242.5L97.9,242.9L49.2,242.1L48.3,238.8L51.9,230.4L56.7,220L58.1,207.5L61.2,197.1Z"/>
<path fill="#7753A1" d="M79.2,187.2L113.1,186.8L111,191.6L109.6,195.8L107.6,203.4L104.8,204.8L103.4,209.6L95.1,211.3L93.2,216.1L87.1,215.9L86.8,204.4L79.4,204.1Z"/>
<path fill="#8193C6" d="M113.1,186.8L133.2,186.8L130.4,194.4L132.5,199.9L129.7,205.5L129,212.4L125.6,216.6L127,220.7L121.4,224.9L118,229.7L120.7,233.2L120,238.3L105.5,238.3L104.8,223.5L91.6,222.8L93.2,216.1L95.1,211.3L103.4,209.6L104.8,204.8L107.6,203.4L109.6,195.8L111,191.6Z"/>
<path fill="#AAC5DF" d="M133.2,186.8L155,185.6L155,204.4L159.2,207.5L158.1,210.6L151.9,216.9L150.8,232.5L150.4,242.9L143.5,240.2L142.5,238.1L120,238.3L120.7,233.2L118,229.7L121.4,224.9L127,220.7L125.6,216.6L129,212.4L129.7,205.5L132.5,199.9L130.4,194.4Z"/>
<path fill="#70167C" d="M49.2,242.1L97.9,242.9L92.5,257.5L89.4,263.8L74.8,270L68.5,276.2L65.4,283.5L58.1,284.2Z"/>
<path fill="#7753A1" d="M103,242.5L105.5,238.3L120,238.3L142.5,238.1L143.5,240.2L150.4,242.9L151.9,248.3L151.7,266.7L108.8,269.6L99.4,267.1L98.8,261.7L100.4,251.2Z"/>
<path fill="#70167C" d="M97.9,242.9L103,242.5L100.4,251.2L98.8,261.7L99.4,267.1L108.8,269.6L107.5,292.9L105,295L105,312.9L61.2,313.8L58.1,284.2L65.4,283.5L68.5,276.2L74.8,270L89.4,263.8L92.5,257.5Z"/>
<path fill="#70167C" d="M108.8,269.6L151.7,266.7L151.2,313.8L142.5,313.8L119.6,313.8L105,312.9L105,295L107.5,292.9Z"/>
<path fill="#70167C" d="M61.2,313.8L105,312.9L119.6,313.8L114.4,330.4L105,331.5L105,337.1L65.8,338.3Z"/>
<path fill="#70167C" d="M155,185.6L212.9,185.4L208.1,190.8L214.4,201.2L211.2,209.6L216.5,214.8L215.4,224.2L210.8,232.1L205.6,236.9L198.8,230.4L195.6,219L188.3,209.6L179,205L155,204.4Z"/>
<path fill="#70167C" d="M155,204.4L179,205L188.3,209.6L195.6,219L198.8,230.4L205.6,236.9L196.7,240.8L189.4,243.3L187.5,247.7L151.9,248.3L150.4,242.9L150.8,232.5L151.9,216.9L158.1,210.6L159.2,207.5Z"/>
<path fill="#7753A1" d="M151.9,248.3L187.5,247.7L190.4,259.6L197.1,259.6L197.3,270.4L175.8,270.6L160.6,270.4L160.2,266L151.7,266.7Z"/>
<path fill="#7753A1" d="M151.7,266.7L160.2,266L160.6,270.4L175.8,270.6L197.3,270.4L197.9,278.3L197.9,297.5L191.5,298.1L186.2,300.2L185.2,305.4L180,307.5L179,314.2L151.2,313.8Z"/>
<path fill="#7753A1" d="M187.5,247.7L189.4,243.3L196.7,240.8L205.6,236.9L206.7,247.1L213.3,255.4L221.7,260.6L230.6,264.8L230,270L231.7,277.7L197.9,278.3L197.3,270.4L197.1,259.6L190.4,259.6Z"/>
<path fill="#70167C" d="M212.9,185.4L235.2,185.2L240.4,195L248.8,197.1L254,210.6L256,212.7L248.8,214.8L246.7,221L243.5,223.5L236.2,221L231,224.2L224.8,233.5L218.5,231.5L210.8,232.1L215.4,224.2L216.5,214.8L211.2,209.6L214.4,201.2L208.1,190.8Z"/>
<path fill="#70167C" d="M205.6,236.9L210.8,232.1L218.5,231.5L224.8,233.5L231,224.2L236.2,221L243.5,223.5L244.2,238.8L247.7,252.9L238.3,259.6L230.6,264.8L221.7,260.6L213.3,255.4L206.7,247.1Z"/>
<path fill="#7753A1" d="M197.9,278.3L231.7,277.7L235.2,283.5L233.1,290.8L225.8,296L221.7,300.8L214.4,316.2L207.1,311.7L198.8,308.5L197.9,297.5Z"/>
<path fill="#70167C" d="M235.2,185.2L281,185.6L280,190.8L274.8,194L268.5,201.2L268.1,209.6L267.1,212.3L256,212.7L254,210.6L248.8,197.1L240.4,195Z"/>
<path fill="#70167C" d="M281,185.6L334.2,184.2L333.1,190.8L327.9,197.1L321.7,201.2L315.4,207.5L309.2,214.8L304.4,224.2L297.7,220.6L289.4,222.5L282.1,219L277.5,210.6L268.1,209.6L268.5,201.2L274.8,194L280,190.8Z"/>
<path fill="#70167C" d="M256,212.7L267.1,212.3L272.7,216.9L270.6,224.2L268.5,232.5L270.6,240.8L273.8,248.1L268.5,253.8L247.7,252.9L244.2,238.8L243.5,223.5L246.7,221L248.8,214.8Z"/>
<path fill="#70167C" d="M268.1,209.6L277.5,210.6L282.1,219L289.4,222.5L297.7,220.6L304.4,224.2L304.4,229L292.8,256.7L283.1,255.4L279,257.5L273.3,263.1L268.5,253.8L273.8,248.1L270.6,240.8L268.5,232.5L270.6,224.2L272.7,216.9L267.1,212.3Z"/>
<path fill="#AAC5DF" d="M304.4,229L314.7,235.9L323,240.1L328.5,244.3L333.5,249.6L325,257.4L300.4,258.8L292.8,256.7Z"/>
<path fill="#7753A1" d="M300.4,258.8L325,257.4L333.5,249.6L338.8,254.8L334.2,267.9L332.7,287.7L325.8,289.8L317.5,288.8L310.2,287.7L306,289.2L299.8,278.3L301.9,267.9Z"/>
<path fill="#70167C" d="M338.8,254.8L340.4,255.8L359.2,256.5L363.3,261.7L366.5,272.1L373.8,284.6L348.8,294.6L343.5,291.9L334.8,293.3L332.7,287.7L334.2,267.9Z"/>
<path fill="#70167C" d="M334.8,293.3L343.5,291.9L348.8,294.6L373.8,284.6L377.9,297.1L385.2,307.5L395.7,326.6L387.4,326.3L371.5,328.4L363.9,326.3L357,322.9L348.6,318.7L343.1,311.1L339.4,304.4L335.2,299.2Z"/>
<path fill="#70167C" d="M273.3,263.1L279,257.5L283.1,255.4L292.8,256.7L300.4,258.8L301.9,267.9L299.8,278.3L306,289.2L300.8,296L288.3,288.8L279,289.8L271.7,285L267.5,273.1Z"/>
<path fill="#7753A1" d="M247.7,252.9L268.5,253.8L273.3,263.1L267.5,273.1L271.7,285L250.2,308.1L246.2,310L221.7,300.8L225.8,296L233.1,290.8L235.2,283.5L231.7,277.7L230,270L230.6,264.8L238.3,259.6Z"/>
<path fill="#7753A1" d="M271.7,285L279,289.8L288.3,288.8L300.8,296L303.2,302.8L303.6,308.3L300.9,319.5L282.9,329.4L281.1,323.5L278,319.4L268.3,317.7L257.1,315.8L250.2,308.1Z"/>
<path fill="#7753A1" d="M250.2,308.1L257.1,315.8L268.3,317.7L278,319.4L281.1,323.5L282.9,329.4L271.8,335.3L261.2,337.1L251.9,335.6L243.5,323.1L246.2,310Z"/>
<path fill="#7753A1" d="M282.9,329.4L300.9,319.5L304.3,320.8L314,324.9L312.6,331.9L316.8,338.8L313.3,345L305.7,341.6L297.4,334.6L285.6,332.5Z"/>
<path fill="#7753A1" d="M306,289.2L310.2,287.7L317.5,288.8L325.8,289.8L332.7,287.7L334.8,293.3L335.2,299.2L339.4,304.4L343.1,311.1L348.6,318.7L338.9,321.5L330.6,318L318.2,323.5L314,324.9L304.3,320.8L300.9,319.5L303.6,308.3L303.2,302.8L300.8,296Z"/>
<path fill="#70167C" d="M65.8,338.3L105,337.1L106,351.5L105,364.4L94.6,367.1L72.3,373.3Z"/>
<path fill="#70167C" d="M119.6,313.8L142.5,313.8L142.2,353.3L121.7,355.6L106,351.5L105,337.1L105,331.5L114.4,330.4Z"/>
<path fill="#7753A1" d="M142.5,313.8L151.2,313.8L179,314.2L178.9,318L180.9,322.2L184,327.7L176.8,335.3L175.4,341.6L174,347.8L161.6,358.2L160.2,359.8L155.7,351.9L144.2,351.5L142.2,353.3Z"/>
<path fill="#7753A1" d="M121.7,355.6L142.2,353.3L144.2,351.5L155.7,351.9L160.2,359.8L151.9,369.3L140.8,376.2L131.8,384.5L122.1,383.8Z"/>
<path fill="#70167C" d="M72.3,373.3L94.6,367.1L105,364.4L106,351.5L121.7,355.6L122.1,383.8L131.8,384.5L132.5,391.7L119.6,401.5L113.3,401.5L110.2,404.2L76.9,404.6Z"/>
<path fill="#7753A1" d="M179,314.2L180,307.5L185.2,305.4L186.2,300.2L191.5,298.1L197.9,297.5L198.8,308.5L207.1,311.7L214.4,316.2L206.6,322.2L204.5,326.3L198.9,325.6L196.6,329.8L187.9,329.1L187.9,373.5L174.7,373.7L174.8,387.8L155.6,393.1L132.5,391.7L131.8,384.5L140.8,376.2L151.9,369.3L160.2,359.8L161.6,358.2L174,347.8L175.4,341.6L176.8,335.3L184,327.7L180.9,322.2L178.9,318Z"/>
<path fill="#8193C6" d="M196.6,329.8L199.6,335.3L211.4,346.4L223.9,358.4L218.6,367.9L215.3,377.1L207,375.1L197.6,374.8L187.9,373.5L187.9,329.1Z"/>
<path fill="#7753A1" d="M221.7,300.8L246.2,310L243.5,323.1L251.9,335.6L229.7,353.7L223.9,358.4L211.4,346.4L199.6,335.3L196.6,329.8L198.9,325.6L204.5,326.3L206.6,322.2L214.4,316.2Z"/>
<path fill="#8193C6" d="M174.8,387.8L174.7,373.7L187.9,373.5L197.6,374.8L199.6,380.3L195.5,388L194.8,397L192.7,403.2L186.5,403.9L186.5,414.4L183.7,414.7L181.6,410.8L183.7,405.3L182.3,399.7L178.2,394.2Z"/>
<path fill="#8193C6" d="M155.6,393.1L174.8,387.8L178.2,394.2L182.3,399.7L183.7,405.3L181.6,410.8L183.7,414.7L181.6,421.9L176.8,427.4L170.1,427.7L167.8,421.9L164.3,417.7L157.4,409.4L154.3,399.7Z"/>
<path fill="#8193C6" d="M197.6,374.8L207,375.1L211.4,383.1L215.6,386.1L222.8,390.7L223.9,394.9L235.7,401.8L231.2,411.8L222.2,413.9L219,421.9L212.1,420.5L210.7,417.7L199.6,416.3L198.9,414.7L186.5,414.4L186.5,403.9L192.7,403.2L194.8,397L195.5,388L199.6,380.3Z"/>
<path fill="#8193C6" d="M223.9,358.4L229.7,353.7L237.7,361.2L238.4,369.3L235,377.6L226.6,386.6L222.8,390.7L215.6,386.1L211.4,383.1L207,375.1L215.3,377.1L218.6,367.9Z"/>
<path fill="#7753A1" d="M237.7,361.2L265.4,378.9L265.4,391.7L263.4,395.6L249.5,404.6L245.3,410.8L245.1,415L240.5,409.4L235.7,401.8L223.9,394.9L222.8,390.7L226.6,386.6L235,377.6L238.4,369.3Z"/>
<path fill="#8193C6" d="M251.9,335.6L261.2,337.1L271.8,335.3L273.2,337.4L278,344.3L286.3,351.2L265.4,378.9L237.7,361.2L229.7,353.7Z"/>
<path fill="#7753A1" d="M282.9,329.4L285.6,332.5L297.4,334.6L305.7,341.6L313.3,345L312.6,345.7L310.6,352.6L313,359.6L299.2,366.1L293.2,359.6L286.3,351.2L278,344.3L273.2,337.4L271.8,335.3Z"/>
<path fill="#7753A1" d="M314,324.9L318.2,323.5L330.6,318L338.9,321.5L348.6,318.7L357,322.9L363.9,326.3L371.5,328.4L361.8,334.6L357,341.6L352.1,348.5L347.5,354.7L350.7,360.2L351.4,363L346.6,366.8L341.7,365.1L332,367.2L313,359.6L310.6,352.6L312.6,345.7L313.3,345L316.8,338.8L312.6,331.9Z"/>
<path fill="#7753A1" d="M371.5,328.4L387.4,326.3L390,334.2L395.5,342.5L393.5,348L406.3,373.5L388.8,378.9L384.7,381L380.5,380.3L368,374.1L359,377.6L351.4,363L350.7,360.2L347.5,354.7L352.1,348.5L357,341.6L361.8,334.6Z"/>
<path fill="#7753A1" d="M286.3,351.2L293.2,359.6L299.2,366.1L305.7,380.3L313.3,390L312.4,397L282.9,403.2L265.4,391.7L265.4,378.9Z"/>
<path fill="#8193C6" d="M313,359.6L332,367.2L341.7,365.1L346.6,366.8L351.4,371.3L345.9,378.9L343.8,383.1L347.3,391.4L346.6,397L345.2,399L327.9,412.9L320.9,409.4L315.4,401.1L312.4,397L313.3,390L305.7,380.3L299.2,366.1Z"/>
<path fill="#8193C6" d="M346.6,366.8L351.4,363L359,377.6L368,374.1L380.5,380.3L376.3,391.4L366.6,392.8L362.5,399.7L363.2,402.5L355.6,403.2L347.3,401.1L345.2,399L346.6,397L347.3,391.4L343.8,383.1L345.9,378.9L351.4,371.3Z"/>
<path fill="#7753A1" d="M387.4,326.3L395.7,326.6L403.9,335.5L414.9,343.2L426,350.8L434.3,359.1L436.4,367L426,367.1L417.7,370.2L412.2,374.3L406.3,373.5L393.5,348L395.5,342.5L390,334.2Z"/>
<path fill="#70167C" d="M412.2,374.3L417.7,370.2L426,367.1L436.4,367L441.2,375.7L449.6,381.2L459.3,387.8L427.4,413.8L424.6,407.6L419.8,400.6L417.7,393.7L412.2,386.8L415.6,381.2Z"/>
<path fill="#70167C" d="M406.3,373.5L412.2,374.3L415.6,381.2L412.2,386.8L417.7,393.7L419.8,400.6L424.6,407.6L427.4,413.8L423.2,420.7L418.4,421L414.9,418.6L403.9,416.6L399.2,415L398.5,409.4L393,394.2L388.8,378.9Z"/>
<path fill="#70167C" d="M427.4,413.8L459.3,387.8L464.8,395.1L473.1,399.3L473.8,405.5L470.3,408.9L471.7,415.9L480,421.4L482.8,427.6L475.9,427L471.7,431.1L464.8,433.2L456.5,431.8L450.9,431.1L446.8,424.9L442.6,423.5L434.3,427L428.1,425.6L423.2,420.7Z"/>
<path fill="#AAC5DF" d="M380.5,380.3L384.7,381L388.8,378.9L393,394.2L398.5,409.4L399.2,415L403.9,416.6L414.9,418.6L418.4,421L411.1,425.6L397.1,419.1L390.1,420.4L377.7,426.7L374.5,429.5L370.8,424.9L367.3,408.3L363.2,400L363.2,402.5L362.5,399.7L366.6,392.8L376.3,391.4Z"/>
<path fill="#7753A1" d="M76.9,404.6L110.2,404.2L117.5,432.8L101.6,439.5L98.8,437.4L96.7,440.9L82.9,445.7Z"/>
<path fill="#8193C6" d="M82.9,445.7L96.7,440.9L98.8,437.4L101.6,439.5L117.5,432.8L126.8,433.2L127.2,482.8L89.1,483.7Z"/>
<path fill="#7753A1" d="M110.2,404.2L113.3,401.5L119.6,401.5L132.5,391.7L155.6,393.1L154.3,399.7L157.4,409.4L164.3,417.7L167.8,421.9L170.1,427.7L169.4,432.8L126.8,433.2L117.5,432.8Z"/>
<path fill="#8193C6" d="M126.8,433.2L169.4,432.8L170.1,436.7L166.6,445.7L164.6,455.4L166,460.9L168,466.1L166.4,474.8L168,481.7L161.8,485.3L146.6,485.7L138.9,483.1L127.2,482.8Z"/>
<path fill="#AAC5DF" d="M170.1,427.7L176.8,427.4L181.6,421.9L183.7,414.7L186.5,414.4L198.9,414.7L199.6,416.3L210.7,417.7L212.1,420.5L219,421.9L217.9,423.3L214.4,427.7L214,437.7L213.7,439.1L199.2,438.6L184.7,437.7L180.5,435.7L170.1,436.7L169.4,432.8Z"/>
<path fill="#AAC5DF" d="M170.1,436.7L180.5,435.7L184.7,437.7L199.2,438.6L199.2,458.2L197.1,460.2L196.4,465.2L168,466.1L166,460.9L164.6,455.4L166.6,445.7Z"/>
<path fill="#AAC5DF" d="M168,466.1L196.4,465.2L214.4,465.8L214.7,473.7L214.8,485L213.7,491.7L210.2,492.8L204.7,506.6L193,499.7L187.4,497L180.5,492.8L173.6,485.9L168,481.7L166.4,474.8Z"/>
<path fill="#8193C6" d="M89.1,483.7L127.2,482.8L138.9,483.1L146.6,485.7L146.8,522.2L122.3,522.6L120.9,519.8L101.6,519.1L98.8,513.6L96.7,505.3L94.6,497L91.9,490Z"/>
<path fill="#8193C6" d="M219,421.9L222.2,413.9L231.2,411.8L235.7,401.8L240.5,409.4L245.1,415L247.8,422.2L249.2,433.2L248.5,437.1L223.3,436.8L214,437.7L214.4,427.7L217.9,423.3Z"/>
<path fill="#8193C6" d="M245.1,415L245.3,410.8L249.5,404.6L263.4,395.6L265.4,391.7L282.9,403.2L282.7,439.8L251.9,445.2L249.9,440.2L248.5,437.1L249.2,433.2L247.8,422.2Z"/>
<path fill="#AAC5DF" d="M282.9,403.2L312.4,397L315.4,401.1L320.9,409.4L327.9,412.9L329.5,420.8L319.1,427L316.3,432.5L315,437.7L295.8,439.1L282.7,439.8Z"/>
<path fill="#AAC5DF" d="M223.3,436.8L248.5,437.1L249.9,440.2L251.9,445.2L259.6,458.2L260.9,466.5L261.2,471.7L241.4,485L214.8,485L214.7,473.7L222.9,473.4Z"/>
<path fill="#8193C6" d="M199.2,438.6L213.7,439.1L214,437.7L223.3,436.8L222.9,473.4L214.7,473.7L214.4,465.8L196.4,465.2L197.1,460.2L199.2,458.2Z"/>
<path fill="#AAC5DF" d="M251.9,445.2L282.7,439.8L295.8,439.1L303.5,473.4L297.9,479.2L286.1,485.2L279.6,482.4L275.5,480.3L265.8,478.9L263,474.8L261.2,471.7L260.9,466.5L259.6,458.2Z"/>
<path fill="#DEEAF3" d="M295.8,439.1L315,437.7L333,442.9L335,445.7L332.3,455.4L338.5,457.1L336.4,460.9L339.9,465.1L338.5,467.9L334.3,465.8L330.2,463L325.3,467.9L320.5,467.9L313.6,472L303.5,473.4Z"/>
<path fill="#DEEAF3" d="M303.5,473.4L313.6,472L320.5,467.9L325.3,467.9L330.2,463L334.3,465.8L338.5,467.9L341.3,477.6L346.8,485.9L351,494.2L351.4,496.9L351.8,503.9L319.1,522.2L297.9,479.2Z"/>
<path fill="#AAC5DF" d="M261.2,471.7L263,474.8L265.8,478.9L275.5,480.3L279.6,482.4L286.1,485.2L288,490L274.8,501.1L273.4,509.7L263,508.3L256.8,506.9L247.8,499.7L241.6,490L241.4,485Z"/>
<path fill="#AAC5DF" d="M214.8,485L241.4,485L241.6,490L247.8,499.7L256.8,506.9L228.4,528.1L222.6,530.5L220.3,523.9L222.4,516.9L217.5,510L204.7,506.6L210.2,492.8L213.7,491.7Z"/>
<path fill="#DEEAF3" d="M374.5,429.5L377.7,426.7L390.1,420.4L397.1,419.1L411.1,425.6L395.7,438.8L395,447.5L385.7,447.8L376.3,438.1Z"/>
<path fill="#70167C" d="M418.4,421L423.2,420.7L428.1,425.6L434.3,427L436.6,432.5L431.7,442.9L428.9,455.4L431,472L428.3,483.1L426.2,487.3L415.1,490.7L413.4,497.2L410.9,497.6L401.9,489.3L403.3,476.2L399.2,466.5L398.5,460.9L390.2,455.4L385.7,447.8L395,447.5L395.7,438.8L411.1,425.6Z"/>
<path fill="#AAC5DF" d="M445.8,490.3L447,483.8L453.9,476.2L469.1,474.8L480.2,471.3L487.1,472.7L490.6,475.5L479.1,512.5L462.9,519.4L453.9,509.4Z"/>
<path fill="#70167C" d="M434.3,427L442.6,423.5L446.8,424.9L450.9,431.1L456.5,431.8L464.8,433.2L471.7,431.1L475.9,427L482.8,427.6L488.8,433.5L491.6,436.9L490.9,441.1L498.5,447.3L508.2,451.5L515.1,457L517.2,459.1L490.6,475.5L487.1,472.7L480.2,471.3L469.1,474.8L453.9,476.2L447,483.8L445.8,490.3L440,491.4L431.7,488.6L426.2,487.3L428.3,483.1L431,472L428.9,455.4L431.7,442.9L436.6,432.5Z"/>
<path fill="#AAC5DF" d="M490.6,475.5L517.2,459.1L522.7,463.2L522,470.2L525.5,477.8L530.3,485.4L531.7,492.3L531,496.5L533.1,502L534.5,510.3L533.1,517.3L535.2,520.7L516.5,533.5L510.9,532.5L497.1,524.2L486,514.5L483.2,513.1L479.1,512.5Z"/>
<path fill="#8193C6" d="M146.6,485.7L161.8,485.3L168,481.7L173.6,485.9L180.5,492.8L187.4,497L193,499.7L187.5,505.3L184,516.4L180.8,520.5L180.5,525.5L176,527.3L165.6,528L161.4,530.8L153.1,530.1L149.2,528.7L146.8,522.2Z"/>
<path fill="#DEEAF3" d="M101.6,519.1L120.9,519.8L122.3,522.6L146.8,522.2L149.2,528.7L142,534.9L139.3,542.5L133,546L124.7,546.7L113.5,551.1L114.3,546L111.6,541.9L110.9,536.3L108.8,530.8L103.2,521.1Z"/>
<path fill="#8193C6" d="M113.5,551.1L124.7,546.7L133,546L139.3,542.5L142,534.9L149.2,528.7L151,531.5L151,571.6L121,571.4L121.9,566.8L110.2,557.8Z"/>
<path fill="#AAC5DF" d="M149.2,528.7L153.1,530.1L161.4,530.8L165.6,528L176,527.3L177.3,534.9L180.8,543.2L181.9,549.5L181.5,551.6L180.8,562.6L178,568.2L177.8,581.3L177.3,585.5L167.9,585.5L164.2,581.1L160,576.5L155.9,574.7L152.8,572L151,571.6L151,531.5Z"/>
<path fill="#7753A1" d="M121,571.4L151,571.6L152.8,572L152.5,614.8L121.5,614.7L117.1,612.5L114.3,609L110.2,607L103,607L103.2,604.2L104.6,593.1L103.2,586.2L107.4,580.6L112.9,577.9L114.3,573.7Z"/>
<path fill="#8193C6" d="M103,607L110.2,607L114.3,609L117.1,612.5L121.5,614.7L121.2,635.3L115.3,635.9L95.2,635.9L94.2,626.3L96.3,619.4L101.2,611.1Z"/>
<path fill="#AAC5DF" d="M152.8,572L155.9,574.7L160,576.5L164.2,581.1L167.9,585.5L177.3,585.5L176.6,600L176.2,614.6L157.3,615.3L152.5,614.8Z"/>
<path fill="#8193C6" d="M193,499.7L204.7,506.6L217.5,510L222.4,516.9L220.3,523.9L222.6,530.5L214,532.2L205,547.4L198.1,548.1L197.4,551.6L191.2,551.6L190.5,550.2L185,550.2L183.6,547.1L181.9,549.5L180.8,543.2L177.3,534.9L176,527.3L180.5,525.5L180.8,520.5L184,516.4L187.5,505.3Z"/>
<path fill="#DEEAF3" d="M181.9,549.5L183.6,547.1L185,550.2L190.5,550.2L191.2,551.6L197.4,551.6L197.4,562.6L200.9,563.3L201.6,567.5L203.7,568.2L203.7,573L207.1,573.3L207.1,582L177.8,581.3L178,568.2L180.8,562.6L181.5,551.6Z"/>
<path fill="#8193C6" d="M256.8,506.9L263,508.3L262.3,518.3L260.9,523.9L259.6,530.8L256.8,532.2L253.3,534.9L250.8,541.6L247.8,539.8L245.7,536.3L236.7,534.9L235.3,532.2L228.4,530.8L222.6,530.5L228.4,528.1Z"/>
<path fill="#AAC5DF" d="M197.4,551.6L198.1,548.1L205,547.4L214,532.2L222.6,530.5L228.4,530.8L235.3,532.2L236.7,534.9L245.7,536.3L247.8,539.8L250.8,541.6L247.1,542.5L246.4,550.2L245,552.9L246.4,563.6L240.2,563.6L233.2,568.2L225.3,578.4L214,577.9L212.7,573.7L207.1,573.3L203.7,573L203.7,568.2L201.6,567.5L200.9,563.3L197.4,562.6Z"/>
<path fill="#AAC5DF" d="M263,508.3L273.4,509.7L278.9,512.8L281.7,521.1L283.1,529.4L287.3,536.3L288.6,539.8L287,548.5L283.1,549.5L274.1,563L246.4,563.6L245,552.9L246.4,550.2L247.1,542.5L250.8,541.6L253.3,534.9L256.8,532.2L259.6,530.8L260.9,523.9L262.3,518.3Z"/>
<path fill="#AAC5DF" d="M286.1,485.2L297.9,479.2L319.1,522.2L288.6,539.8L287.3,536.3L283.1,529.4L281.7,521.1L278.9,512.8L273.4,509.7L274.8,501.1L288,490Z"/>
<path fill="#8193C6" d="M288.6,539.8L319.1,522.2L325.6,539.8L310.8,555L312.2,559.2L306,564.3L290,549.5L287,548.5Z"/>
<path fill="#7753A1" d="M325.6,539.8L347.1,583.4L361.5,577L352,587L322.2,616.6L317.7,611.8L312.2,605.6L310.1,597.3L309.4,590.3L308.3,587.6L307.3,583.4L310.8,579.3L301.8,569.6L306,564.3L312.2,559.2L310.8,555Z"/>
<path fill="#8193C6" d="M287,548.5L290,549.5L306,564.3L301.8,569.6L310.8,579.3L307.3,583.4L308.3,587.6L303.2,585.9L297,585.5L281.7,586.9L274.8,587.3L274.1,563L283.1,549.5Z"/>
<path fill="#AAC5DF" d="M225.3,578.4L233.2,568.2L240.2,563.6L246.4,563.6L274.1,563L274.8,587.3L274.1,600.7L233.9,600L229.8,593.1L226.3,583.4Z"/>
<path fill="#8193C6" d="M274.8,587.3L281.7,586.9L297,585.5L303.2,585.9L308.3,587.6L309.4,590.3L310.1,597.3L312.2,605.6L317.7,611.8L322.2,616.6L324,625.2L288.9,626.1L274.8,625.2L274.1,600.7Z"/>
<path fill="#DEEAF3" d="M233.9,600L274.1,600.7L274.8,625.2L274.1,631.9L251.9,631.9L245.7,627.7L236.7,625.2L237.1,616.6L234.6,607Z"/>
<path fill="#DEEAF3" d="M177.8,581.3L207.1,582L207.1,573.3L212.7,573.7L214,577.9L225.3,578.4L226.3,583.4L229.8,593.1L233.9,600L234.6,607L237.1,616.6L188.8,617.8L176.2,614.6L176.6,600L177.3,585.5Z"/>
<path fill="#DEEAF3" d="M374.5,429.5L376.3,438.1L385.7,447.8L390.2,455.4L398.5,460.9L399.2,466.5L403.3,476.2L401.9,489.3L384.6,494.8L373.5,496.9L371.4,492.1L368,491.4L351.4,496.9L351,494.2L346.8,485.9L341.3,477.6L338.5,467.9L339.9,465.1L336.4,460.9L338.5,457.1Z"/>
<path fill="#DEEAF3" d="M327.9,412.9L345.2,399L347.3,401.1L355.6,403.2L363.2,402.5L363.2,400L367.3,408.3L370.8,424.9L374.5,429.5L338.5,457.1L332.3,455.4L335,445.7L333,442.9L315,437.7L316.3,432.5L319.1,427L329.5,420.8Z"/>
<path fill="#8193C6" d="M351.8,503.9L360.8,504.5L369.8,508.7L370.5,512.2L385,518.4L385.7,530.2L386.8,532.4L387.8,535.7L381.6,541.2L379.5,550.9L376,557.9L377.4,562L361.5,577L347.1,583.4L325.6,539.8L319.1,522.2Z"/>
<path fill="#DEEAF3" d="M351.4,496.9L368,491.4L371.4,492.1L373.5,496.9L384.6,494.8L401.9,489.3L410.9,497.6L413.4,497.2L407.9,503.9L405.1,509.4L408.6,513.5L400.9,517.7L393.3,523.9L395.4,531.8L386.8,532.4L385.7,530.2L385,518.4L370.5,512.2L369.8,508.7L360.8,504.5L351.8,503.9Z"/>
<path fill="#DEEAF3" d="M386.8,532.4L395.4,531.8L405.1,535L418.9,543.3L415.1,555.4L387.1,562L377.4,562L376,557.9L379.5,550.9L381.6,541.2L387.8,535.7Z"/>
<path fill="#8193C6" d="M361.5,577L377.4,562L387.1,562L389.2,573.1L388.5,587L392.6,599.4L400.9,609.8L395.4,611.9L385.7,614L380.2,605L367.7,596.6L358,591.1L352,587Z"/>
<path fill="#DEEAF3" d="M387.1,562L415.1,555.4L406.8,609.4L405.1,611.9L400.9,609.8L392.6,599.4L388.5,587L389.2,573.1Z"/>
<path fill="#AAC5DF" d="M413.4,497.2L415.1,490.7L426.2,487.3L431.7,488.6L440,491.4L445.8,490.3L453.9,509.4L462.9,519.4L460.4,528.6L454.3,526.7L445.3,531.6L441.8,542.6L434.2,555.1L435.6,560.6L431.4,562.7L422.4,562.7L420.3,558.6L415.1,555.4L418.9,543.3L405.1,535L395.4,531.8L393.3,523.9L400.9,517.7L408.6,513.5L405.1,509.4L407.9,503.9Z"/>
<path fill="#DEEAF3" d="M460.4,528.6L466,531.6L467.4,538.5L473,546.1L468.1,565.9L461.6,565.9L435.6,560.6L434.2,555.1L441.8,542.6L445.3,531.6L454.3,526.7Z"/>
<path fill="#DEEAF3" d="M415.1,555.4L420.3,558.6L422.4,562.7L431.4,562.7L435.6,560.6L438.3,570.3L441.8,580L439,593.9L437.6,614.9L432,615.2L426.5,612.5L419.6,613.2L412.9,610.8L406.8,609.4Z"/>
<path fill="#DEEAF3" d="M461.6,565.9L468.1,565.9L475,565.5L482.7,570.3L486.8,578.6L489.9,582.5L491.5,588.2L494,592.2L490.8,597.6L478.4,595.5L466,593.2Z"/>
<path fill="#7753A1" d="M535.2,520.7L545.6,525.6L552.5,532.5L558.6,539.7L557.3,543.9L561.4,552.2L565.6,557.7L567,564.6L562.5,571.6L557.3,572.2L535.1,590.9L533,582.6L530.9,575.7L528.9,571.6L526.8,563.2L521.2,553.5L517.8,545.2L518.5,538.3L516.5,533.5Z"/>
<path fill="#8193C6" d="M528.9,571.6L530.9,575.7L533,582.6L535.1,590.9L536.5,593.7L543.4,603.4L547.6,611.7L553.1,618.6L558.6,618.6L564.2,625.6L560,633.2L561.7,641.1L558.6,642.5L555.9,639.4L548.9,635.3L544.8,629.7L537.9,627L535.1,620L532.3,611.7L528.2,611.7L525.4,608.9L512.9,608.9L510.2,604.8L504.6,597.9L499.1,593L494,592.2L491.5,588.2L489.9,582.5Z"/>
<path fill="#7753A1" d="M562.5,571.6L567,575.7L568.3,581.2L567,586.8L571.1,590.2L579.4,590.2L585,595.1L593.3,600.6L599.5,601.3L599.5,606.2L594.7,610.3L587.7,611L583.6,613.1L588.4,617.3L580.8,624.2L575.3,624.2L572.5,627.6L576.6,631.8L571.1,638L565.6,642.9L561.7,641.1L560,633.2L564.2,625.6L558.6,618.6L553.1,618.6L547.6,611.7L543.4,603.4L536.5,593.7L535.1,590.9L557.3,572.2Z"/>
<path fill="#AAC5DF" d="M462.9,519.4L479.1,512.5L483.2,513.1L486,514.5L497.1,524.2L510.9,532.5L516.5,533.5L518.5,538.3L517.8,545.2L521.2,553.5L526.8,563.2L528.9,571.6L489.9,582.5L486.8,578.6L482.7,570.3L475,565.5L468.1,565.9L473,546.1L467.4,538.5L466,531.6L460.4,528.6Z"/>
<path fill="#AAC5DF" d="M95.2,635.9L115.3,635.9L116.7,644.9L117.4,657.7L132.2,658.4L132.2,673.7L107.7,675.7L106.3,675.4L105.6,668.5L104.2,660.2L100.8,653.2L95.9,644.9Z"/>
<path fill="#8193C6" d="M121.5,614.7L152.5,614.8L157.3,615.3L157.1,635.9L162.4,636.6L164.5,646.3L164.8,657.4L152,656.7L151.3,658.4L132.2,658.4L117.4,657.7L116.7,644.9L115.3,635.9L121.2,635.3Z"/>
<path fill="#DEEAF3" d="M157.3,615.3L176.2,614.6L188.8,617.8L195,624.2L198.4,629.7L198,633.9L194.3,634.5L193.6,657.4L174.9,657.8L164.8,657.4L164.5,646.3L162.4,636.6L157.1,635.9Z"/>
<path fill="#DEEAF3" d="M188.8,617.8L237.1,616.6L236.7,625.2L231.1,630.5L227.5,633.2L228.9,638L224,644.9L226.1,653.2L226.8,657.1L193.6,657.4L194.3,634.5L198,633.9L198.4,629.7L195,624.2Z"/>
<path fill="#AAC5DF" d="M132.2,658.4L151.3,658.4L152,656.7L164.8,657.4L174.9,657.8L174.2,662.9L178.3,675.4L179.7,681.9L175.6,680.9L170,684L163.1,683L153.4,683.4L135.4,683.3L133.3,676.8L132.2,673.7Z"/>
<path fill="#DEEAF3" d="M174.9,657.8L193.6,657.4L226.8,657.1L229,665.7L228.2,681.9L210.9,683.3L179.7,681.9L178.3,675.4L174.2,662.9Z"/>
<path fill="#AAC5DF" d="M106.3,675.4L107.7,675.7L132.2,673.7L133.3,676.8L135.4,683.3L153.4,683.4L152.7,708L120.2,708.6L119.8,733.2L107,733.2L102.2,723.9L98.7,717L97.3,705.9L100.1,697.6L100.8,689.3L102.2,678.2Z"/>
<path fill="#DEEAF3" d="M119.8,733.2L120.2,708.6L152.7,708L165.2,708.2L164.5,733.2L141.6,733.6Z"/>
<path fill="#DEEAF3" d="M153.4,683.4L163.1,683L170,684L175.6,680.9L179.7,681.9L210.9,683.3L204.7,692L200.5,695.5L190.8,700.3L186.6,707.3L179.7,717L171.4,723.9L168.6,729.4L168.9,733.2L164.5,733.2L165.2,708.2L152.7,708Z"/>
<path fill="#DEEAF3" d="M210.9,683.3L228.2,681.9L228.2,697.6L227.5,733.9L213.7,733.9L184.2,733.6L168.9,733.2L168.6,729.4L171.4,723.9L179.7,717L186.6,707.3L190.8,700.3L200.5,695.5L204.7,692Z"/>
<path fill="#DEEAF3" d="M236.7,625.2L245.7,627.7L251.9,631.9L252.1,657.4L261.6,658.1L267.1,661.6L268.5,664L267.8,675.4L269.2,686.5L268.9,698L259.5,699.2L256.7,698.3L228.2,697.6L228.2,681.9L229,665.7L226.8,657.1L226.1,653.2L224,644.9L228.9,638L227.5,633.2L231.1,630.5Z"/>
<path fill="#AAC5DF" d="M251.9,631.9L274.1,631.9L274.8,625.2L288.9,626.1L292,635.2L292.3,637.7L292,645.6L288.6,647.7L287.5,661L269.9,661.1L268.5,664L267.1,661.6L261.6,658.1L252.1,657.4Z"/>
<path fill="#AAC5DF" d="M288.9,626.1L324,625.2L328,629.7L337.7,633.9L345.6,635.9L345.3,650.1L324.6,649.8L323.9,653.2L314.9,653L314.2,649.1L308,648.4L307.3,638L303.1,637.3L292.3,637.7L292,635.2Z"/>
<path fill="#AAC5DF" d="M292.3,637.7L303.1,637.3L307.3,638L308,648.4L314.2,649.1L314.9,653L323.9,653.2L324.6,649.8L345.3,650.1L344,654.6L339.8,660.2L338.4,668.5L332.2,678.2L303.4,677.9L301,672.6L297.6,667.1L289.3,665L287.5,661L288.6,647.7L292,645.6Z"/>
<path fill="#8193C6" d="M268.5,664L269.9,661.1L287.5,661L289.3,665L297.6,667.1L301,672.6L303.4,677.9L303.1,686.5L297.6,693.4L293,698.5L285.5,699.2L268.9,698L269.2,686.5L267.8,675.4Z"/>
<path fill="#DEEAF3" d="M228.2,697.6L256.7,698.3L259.5,699.2L268.9,698L285.5,699.2L285.8,714.2L281.6,722.5L278.2,735L278.4,739.1L259.1,739.4L228,738.7L227.5,733.9Z"/>
<path fill="#AAC5DF" d="M285.5,699.2L293,698.5L294.8,701L295.5,703.8L303.1,708.6L307.3,711.4L308,719.7L310.7,729.4L312.8,735L311.7,740.2L289,739.9L286.5,738.4L280.2,737L278.4,739.1L278.2,735L281.6,722.5L285.8,714.2Z"/>
<path fill="#DEEAF3" d="M303.4,677.9L332.2,678.2L329.4,680.9L330.1,686.2L332.2,692L337.7,697.6L340.5,704.5L341.9,708.6L340.5,717L341.6,719.3L341.2,723.9L326.6,723.9L326,735L323.2,735.7L323.5,740.2L311.7,740.2L312.8,735L310.7,729.4L308,719.7L307.3,711.4L303.1,708.6L295.5,703.8L294.8,701L293,698.5L297.6,693.4L303.1,686.5Z"/>
<path fill="#AAC5DF" d="M352,587L322.2,616.6L324,625.2L328,629.7L337.7,633.9L345.6,635.9L349.5,634.5L358.5,633.9L364.7,632.5L369.7,625.6L373.9,622.9L379.4,618.7L385.7,614L380.2,605L367.7,596.6L358,591.1Z"/>
<path fill="#DEEAF3" d="M364.7,632.5L369.7,625.6L373.9,622.9L379.4,618.7L385.7,614L395.4,611.9L400.9,609.8L405.1,611.9L406.8,609.4L412.9,610.8L412.9,626.3L402.2,627L402,644.6L402,650.1L389.8,650.7L365.5,650.7Z"/>
<path fill="#8193C6" d="M412.9,610.8L419.6,613.2L426.5,612.5L432,615.2L437.6,614.9L445.9,618L450,618.7L451.4,623.5L453.1,628.8L449.3,634.6L447.5,636.3L447.5,677.8L445.2,677.6L436.2,669L427.9,663L415.4,655.4L406.4,648.5L402,644.6L402.2,627L412.9,626.3Z"/>
<path fill="#7753A1" d="M402,644.6L406.4,648.5L415.4,655.4L427.9,663L436.2,669L429.3,676.2L423,683.8L415.4,684.8L407.1,684.8L405,679.6L389.5,679.2L393,678.3L392.5,666.5L389.8,666.2L389.8,650.7L402,650.1Z"/>
<path fill="#AAC5DF" d="M345.6,635.9L349.5,634.5L358.5,633.9L364.7,632.5L365.5,650.7L389.8,650.7L389.8,666.2L392.5,666.5L393,678.3L389.5,679.2L389.1,693.1L367.5,692.7L364.7,688.1L351.6,687.8L350.2,686.4L330.1,686.2L329.4,680.9L332.2,678.2L338.4,668.5L339.8,660.2L344,654.6L345.3,650.1Z"/>
<path fill="#70167C" d="M415.4,684.8L423,683.8L429.3,676.2L436.2,669L445.2,677.6L447.5,677.8L454.2,677.6L457,683.1L458.3,692.8L460.7,695.6L463.9,702.8L457,705.3L448.6,706.6L445.9,713.6L441,715.7L429.3,713.2L420.9,706.6L417.5,698.3L416.1,688.6Z"/>
<path fill="#70167C" d="M453.1,628.8L455.6,629.1L462.5,629.8L466.6,633.2L470.8,637.4L477.7,644.3L484.7,651.2L491.6,656.8L498.5,662.3L504,668.1L505.4,673.4L508.9,679.9L499.9,688.6L495,697.9L487.4,694.2L479.1,695.6L470.8,696.3L460.7,695.6L458.3,692.8L457,683.1L454.2,677.6L447.5,677.8L447.5,636.3L449.3,634.6Z"/>
<path fill="#AAC5DF" d="M435.6,560.6L461.6,565.9L466,593.2L478.4,595.5L490.8,597.6L484.5,603.4L479.1,608.3L476.1,615.9L474.1,624.2L470.4,628.4L466.6,633.2L462.5,629.8L455.6,629.1L453.1,628.8L451.4,623.5L450,618.7L445.9,618L437.6,614.9L439,593.9L441.8,580L438.3,570.3Z"/>
<path fill="#8193C6" d="M484.5,603.4L492.2,607.6L493.5,611.7L490.8,620L497.7,625.6L504.6,632.5L506,636.6L515.7,642.2L521.9,647.7L519.3,652.6L515.1,660.9L512.4,665.1L504,668.1L498.5,662.3L491.6,656.8L484.7,651.2L477.7,644.3L470.8,637.4L466.6,633.2L470.4,628.4L474.1,624.2L476.1,615.9L479.1,608.3Z"/>
<path fill="#70167C" d="M521.9,647.7L527.8,651.5L535.4,652.9L542.3,652.2L550.6,654.2L555.5,657.7L558.9,664.6L557.1,665.7L549.3,670.2L546.5,671.6L549.3,674.3L554.8,670.9L560.3,671.6L557.6,678.5L552,686.8L548.6,693L547.9,699.3L548.6,702.3L538.2,699.9L533.3,702.7L528.5,699.3L520.2,694.4L511.9,686.8L508.9,679.9L505.4,673.4L504,668.1L512.4,665.1L515.1,660.9L519.3,652.6Z"/>
<path fill="#8193C6" d="M494,592.2L499.1,593L504.6,597.9L510.2,604.8L512.9,608.9L525.4,608.9L528.2,611.7L532.3,611.7L535.1,620L537.9,627L544.8,629.7L548.9,635.3L555.9,639.4L558.6,642.5L561,646.6L565.2,647.3L565.9,655.6L563.1,663.9L561,666.7L557.1,665.7L558.9,664.6L555.5,657.7L550.6,654.2L542.3,652.2L535.4,652.9L527.8,651.5L521.9,647.7L515.7,642.2L506,636.6L504.6,632.5L497.7,625.6L490.8,620L493.5,611.7L492.2,607.6L484.5,603.4L490.8,597.6Z"/>
<path fill="#70167C" d="M508.9,679.9L511.9,686.8L520.2,694.4L528.5,699.3L533.3,702.7L538.2,699.9L548.6,702.3L549.3,707.6L547.2,714.5L540.9,720L535.4,726.3L532.6,727.6L534,733.9L531.9,740.8L531.2,742.9L529.2,740.1L524.3,739.4L520.9,733.9L514.6,731.1L513.9,727L507.7,728.3L500.8,727L493.9,724.2L489,721.1L491.8,710.3L493.9,702L495,697.9L499.9,688.6Z"/>
<path fill="#AAC5DF" d="M107,733.2L119.8,733.2L141.6,733.6L141.6,734.8L140.2,741.1L140.2,759.8L137.5,768.8L133.3,774.3L127.8,777.8L126,781.9L126.4,785.1L120.9,777.8L118.1,770.2L118.1,761.9L113.9,754.9L109.8,748L109.8,741.1Z"/>
<path fill="#DEEAF3" d="M141.6,733.6L164.5,733.2L168.9,733.2L184.2,733.6L183.5,787.5L126.4,785.1L126,781.9L127.8,777.8L133.3,774.3L137.5,768.8L140.2,759.8L140.2,741.1L141.6,734.8Z"/>
<path fill="#DEEAF3" d="M184.2,733.6L213.7,733.9L213.7,748L218.5,755.6L218.5,764.6L218.1,789.6L183.5,787.5Z"/>
<path fill="#DEEAF3" d="M213.7,733.9L227.5,733.9L228,738.7L259.1,739.4L258.5,792.6L218.1,789.6L218.5,764.6L218.5,755.6L213.7,748Z"/>
<path fill="#DEEAF3" d="M259.1,739.4L278.4,739.1L280.2,737L286.5,738.4L289,739.9L292,745.2L295.5,750.8L293.4,757.7L297.6,759.8L303.1,761.9L304.5,766L298.9,768.1L292.7,770.2L292,775.7L288.6,779.2L292,785.4L297.6,789.6L303.1,793L303.5,795.4L258.5,792.6Z"/>
<path fill="#DEEAF3" d="M289,739.9L311.7,740.2L323.5,740.2L324.6,741.1L324.6,751.5L341.2,751.9L343.3,759.8L342.9,764.6L335,765.7L333.6,770.2L330.8,772.2L330.1,782.6L330.1,797.2L303.5,795.4L303.1,793L297.6,789.6L292,785.4L288.6,779.2L292,775.7L292.7,770.2L298.9,768.1L304.5,766L303.1,761.9L297.6,759.8L293.4,757.7L295.5,750.8L292,745.2Z"/>
<path fill="#DEEAF3" d="M341.6,719.3L349.1,718.9L349.1,762.8L347.4,763.2L342.9,764.6L343.3,759.8L341.2,751.9L324.6,751.5L324.6,741.1L323.5,740.2L323.2,735.7L326,735L326.6,723.9L341.2,723.9Z"/>
<path fill="#70167C" d="M389.5,679.2L405,679.6L407.1,684.8L415.4,684.8L416.1,688.6L417.5,698.3L420.9,706.6L429.3,713.2L429.9,716.9L438.9,719.7L439.2,732.2L447.3,742.8L414.7,743.2L414.4,773L445.9,774L438.3,804.9L413.3,802.5L411.9,787.6L412.6,770.9L405,770.2L405,750.2L398.8,749.5L393.2,741.9L389.8,733.5L383.8,718.8L381.5,712.2L380.8,706.6L385.6,703.9L389.1,704.6L389.1,693.1Z"/>
<path fill="#70167C" d="M349.1,718.9L383.8,718.8L389.8,733.5L393.2,741.9L398.8,749.5L405,750.2L405,770.2L412.6,770.9L411.9,787.6L413.3,802.5L394.6,801.4L394.6,785.5L389.8,782.7L380.8,781.7L373.7,781.9L369.6,779.8L366.1,774.3L364.7,768.7L358.5,765.3L349.1,762.8Z"/>
<path fill="#DEEAF3" d="M342.9,764.6L347.4,763.2L349.1,762.8L358.5,765.3L364.7,768.7L366.1,774.3L369.6,779.8L373.7,781.9L380.8,781.7L389.8,782.7L394.6,785.5L394.6,801.4L330.1,797.2L330.1,782.6L330.8,772.2L333.6,770.2L335,765.7Z"/>
<path fill="#7753A1" d="M447.3,742.8L454.2,742.8L456.3,734.2L473.6,738.4L474.3,743.2L472.9,746.7L475.7,750.2L473.6,755.7L475.7,757.8L475.2,770.5L469.4,770.2L466.6,773.7L461.1,775.1L459,779.3L458.3,791.7L461.8,800L461.8,809.7L460.4,819.4L458.3,827.7L459,832.6L450,834L443.1,834L439.6,829.1L438.3,820.8L438.9,816.6L435.5,809.7L436.9,805.6L438.3,804.9L445.9,774L414.4,773L414.7,743.2Z"/>
<path fill="#70167C" d="M429.3,713.2L441,715.7L445.9,713.6L448.6,706.6L457,705.3L463.9,702.8L460.7,695.6L470.8,696.3L479.1,695.6L487.4,694.2L495,697.9L493.9,702L491.8,710.3L489,721.1L485.3,723.9L482.6,730.8L472.9,731.5L471.1,735.3L473.6,738.4L456.3,734.2L454.2,742.8L447.3,742.8L439.2,732.2L438.9,719.7L429.9,716.9Z"/>
<path fill="#7753A1" d="M330.1,686.2L332.2,692L337.7,697.6L340.5,704.5L341.9,708.6L340.5,717L341.6,719.3L349.1,718.9L383.8,718.8L381.5,712.2L380.8,706.6L385.6,703.9L389.1,704.6L389.1,693.1L367.5,692.7L364.7,688.1L351.6,687.8L350.2,686.4Z"/>
<path fill="#70167C" d="M489,721.1L493.9,724.2L500.8,727L507.7,728.3L513.9,727L514.6,731.1L520.9,733.9L524.3,739.4L529.2,740.1L531.2,742.9L526.5,744.2L523.7,747.7L527.9,749.1L532,747.7L533.4,751.9L532.7,760.2L529.3,768.5L527.2,775.4L527.9,782.3L528.8,785.1L525.1,783.7L518.2,785.1L512.6,783.7L507.1,782.3L502.9,780.2L496,779.6L489.8,776.1L486.3,774.7L478,772.6L475.2,770.5L475.7,757.8L473.6,755.7L475.7,750.2L472.9,746.7L474.3,743.2L473.6,738.4L471.1,735.3L472.9,731.5L482.6,730.8L485.3,723.9Z"/>
</g>
<rect x="27.4" y="111.2" width="635.4" height="737.3" fill="none" stroke="#555" stroke-width="1.3"/>
<rect x="681.1" y="111.2" width="635.4" height="737.3" fill="none" stroke="#555" stroke-width="1.3"/>
<text x="483.2" y="140.8" font-size="26.4">Aspatial EB</text>
<rect x="485.2" y="155.95" width="24.0" height="24.2" fill="#DEEAF3" stroke="#525454" stroke-width="1.7"/>
<rect x="485.2" y="180.15" width="24.0" height="24.2" fill="#AAC5DF" stroke="#525454" stroke-width="1.7"/>
<rect x="485.2" y="204.35" width="24.0" height="24.2" fill="#8193C6" stroke="#525454" stroke-width="1.7"/>
<rect x="485.2" y="228.55" width="24.0" height="24.2" fill="#7753A1" stroke="#525454" stroke-width="1.7"/>
<rect x="485.2" y="252.75" width="24.0" height="24.2" fill="#70167C" stroke="#525454" stroke-width="1.7"/>
<text x="515.3" y="175.50" font-size="20.2">0.568 to 0.853</text>
<text x="515.3" y="199.70" font-size="20.2">0.853 to 0.921</text>
<text x="515.3" y="223.90" font-size="20.2">0.921 to 0.981</text>
<text x="515.3" y="248.10" font-size="20.2">0.981 to 1.103</text>
<text x="515.3" y="272.30" font-size="20.2">1.103 to 1.653</text>

<text x="1137.2" y="140.8" font-size="26.4">Queen contig</text>
<rect x="1139.2" y="155.95" width="24.0" height="24.2" fill="#DEEAF3" stroke="#525454" stroke-width="1.7"/>
<rect x="1139.2" y="180.15" width="24.0" height="24.2" fill="#AAC5DF" stroke="#525454" stroke-width="1.7"/>
<rect x="1139.2" y="204.35" width="24.0" height="24.2" fill="#8193C6" stroke="#525454" stroke-width="1.7"/>
<rect x="1139.2" y="228.55" width="24.0" height="24.2" fill="#7753A1" stroke="#525454" stroke-width="1.7"/>
<rect x="1139.2" y="252.75" width="24.0" height="24.2" fill="#70167C" stroke="#525454" stroke-width="1.7"/>
<text x="1169.3" y="175.50" font-size="20.2">0.000 to 0.086</text>
<text x="1169.3" y="199.70" font-size="20.2">0.086 to 0.113</text>
<text x="1169.3" y="223.90" font-size="20.2">0.113 to 0.140</text>
<text x="1169.3" y="248.10" font-size="20.2">0.140 to 0.186</text>
<text x="1169.3" y="272.30" font-size="20.2">0.186 to 0.274</text>


</svg>
</body></html>
